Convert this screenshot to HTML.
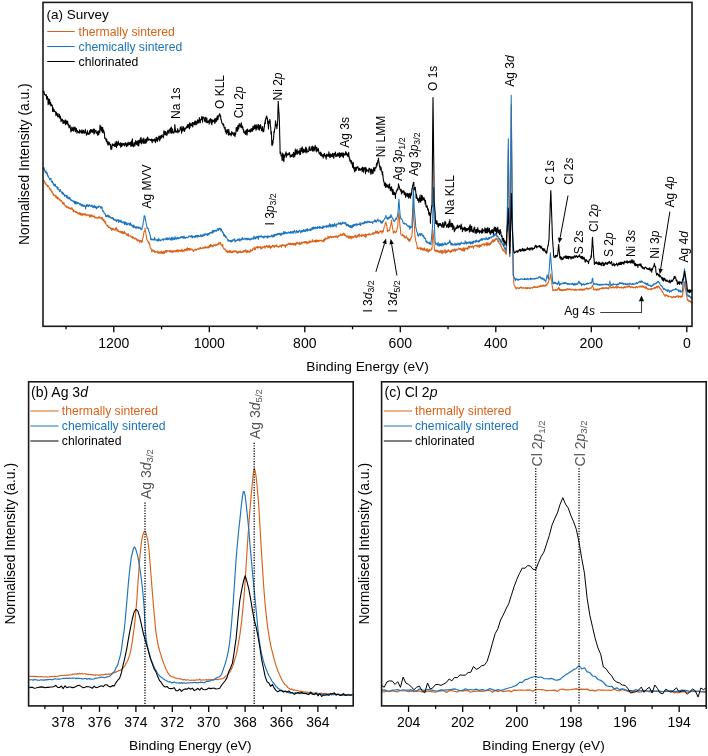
<!DOCTYPE html>
<html><head><meta charset="utf-8"><style>
html,body{margin:0;padding:0;background:#fff;}
svg{display:block;font-family:"Liberation Sans", sans-serif;will-change:transform;}
</style></head><body>
<svg width="708" height="756" viewBox="0 0 708 756">
<rect x="0" y="0" width="708" height="756" fill="#fff"/>
<polyline fill="none" stroke="#DA6218" stroke-width="1.05" stroke-linejoin="round"  points="43.00,179.72 43.30,180.36 43.60,180.36 43.90,180.33 44.20,181.10 44.50,181.14 44.80,182.38 45.10,183.78 45.40,182.85 45.70,183.19 46.00,184.45 46.30,184.77 46.60,184.99 46.90,184.61 47.20,185.69 47.50,186.63 47.80,185.49 48.10,186.56 48.40,185.89 48.70,186.77 49.00,186.78 49.30,188.42 49.60,188.08 49.90,189.67 50.20,190.03 50.50,190.21 50.80,188.90 51.10,190.82 51.40,191.62 51.70,192.17 52.00,191.36 52.30,192.58 52.60,192.63 52.90,193.20 53.20,195.04 53.20,193.65 53.50,194.52 53.80,195.49 54.10,194.67 54.40,195.31 54.70,195.75 55.00,195.98 55.30,195.26 55.60,196.48 55.90,197.67 56.20,195.70 56.50,197.71 56.80,197.35 57.10,196.96 57.40,199.13 57.70,198.40 58.00,197.13 58.30,198.29 58.60,198.89 58.90,198.56 59.20,199.47 59.50,199.19 59.80,200.03 60.10,200.92 60.40,199.65 60.70,200.64 61.00,200.48 61.30,201.26 61.60,200.62 61.90,201.42 62.20,202.05 62.50,203.21 62.80,203.73 63.10,202.21 63.40,202.94 63.70,204.35 64.00,202.69 64.30,204.16 64.60,204.75 64.90,206.09 65.20,205.98 65.50,205.53 65.80,205.80 66.10,206.19 66.40,207.81 66.50,206.45 66.70,206.66 67.00,207.32 67.30,207.11 67.60,207.17 67.90,206.60 68.20,207.52 68.50,207.28 68.80,208.57 69.10,208.28 69.40,207.87 69.70,208.50 70.00,207.87 70.30,209.06 70.60,208.43 70.90,209.05 71.20,207.84 71.50,209.26 71.80,207.94 72.10,207.89 72.40,209.39 72.70,209.15 73.00,210.15 73.30,211.92 73.60,209.82 73.90,210.18 74.20,211.02 74.50,211.46 74.80,211.18 75.10,211.38 75.40,212.28 75.70,212.36 76.00,211.40 76.30,212.32 76.60,212.60 76.90,211.97 77.20,213.13 77.50,212.46 77.80,214.01 78.10,213.59 78.40,213.67 78.70,213.33 79.00,213.85 79.30,212.60 79.60,213.40 79.70,214.56 79.90,212.69 80.20,214.94 80.50,213.01 80.80,214.89 81.10,213.69 81.40,214.91 81.70,214.42 82.00,213.16 82.30,215.25 82.60,215.38 82.90,214.25 83.20,214.09 83.50,214.19 83.80,213.60 84.10,215.19 84.40,214.00 84.70,214.42 85.00,213.93 85.30,214.13 85.60,213.72 85.90,215.71 86.20,214.75 86.50,215.68 86.80,215.06 87.10,214.63 87.40,214.99 87.70,214.91 88.00,215.42 88.30,215.22 88.60,215.36 88.90,214.63 89.20,215.13 89.50,217.04 89.80,215.36 90.10,215.12 90.40,216.21 90.70,217.05 91.00,214.94 91.30,215.90 91.60,215.61 91.90,214.79 92.20,216.71 92.50,216.19 92.80,216.33 93.10,215.79 93.40,216.80 93.70,216.17 94.00,216.60 94.30,216.02 94.60,216.09 94.90,218.16 95.20,216.93 95.50,217.66 95.80,217.53 96.10,217.31 96.40,217.32 96.70,218.20 97.00,217.50 97.30,217.58 97.60,217.65 97.90,218.44 98.20,217.98 98.50,217.68 98.80,216.91 99.10,216.25 99.40,217.98 99.70,218.00 100.00,217.22 100.30,217.81 100.60,218.09 100.90,218.24 101.20,218.44 101.50,217.54 101.80,219.13 102.10,217.16 102.40,218.82 102.50,218.57 102.70,219.20 103.00,220.47 103.30,220.67 103.60,219.17 103.90,219.23 104.20,221.58 104.50,220.67 104.80,221.90 105.10,223.04 105.40,221.68 105.70,221.86 106.00,224.19 106.30,224.61 106.60,224.98 106.90,225.81 107.00,225.39 107.20,225.05 107.50,226.27 107.80,225.89 108.10,225.60 108.40,227.44 108.70,227.24 109.00,227.81 109.30,226.98 109.60,227.43 109.90,227.37 110.20,227.64 110.50,228.62 110.80,228.04 111.10,229.03 111.40,229.13 111.70,230.50 112.00,228.02 112.30,229.80 112.60,229.13 112.90,229.24 113.20,228.21 113.50,229.00 113.80,229.95 114.10,229.38 114.40,229.56 114.70,229.34 115.00,230.49 115.30,229.67 115.60,228.10 115.90,229.30 116.20,228.42 116.50,227.54 116.80,229.67 117.10,231.17 117.40,230.31 117.70,229.53 118.00,229.85 118.30,231.56 118.60,231.01 118.90,231.11 119.20,231.23 119.40,231.45 119.50,232.14 119.80,232.13 120.10,232.04 120.40,231.24 120.70,232.53 121.00,231.74 121.30,233.16 121.60,231.45 121.90,232.35 122.20,232.50 122.50,231.56 122.80,233.90 123.10,233.75 123.40,232.38 123.70,233.38 124.00,233.19 124.30,231.05 124.60,233.32 124.90,233.23 125.20,233.48 125.50,232.76 125.80,233.52 126.10,233.74 126.40,234.92 126.70,234.42 127.00,234.31 127.30,235.60 127.60,234.16 127.90,234.42 128.20,233.49 128.50,236.16 128.80,235.84 129.10,235.95 129.40,235.90 129.70,235.63 130.00,235.86 130.30,235.66 130.60,235.86 130.90,236.21 131.20,237.47 131.50,236.92 131.80,236.64 132.10,236.42 132.40,236.57 132.60,238.39 132.70,237.69 133.00,237.59 133.30,237.51 133.60,237.15 133.90,238.14 134.20,239.03 134.50,238.25 134.80,238.53 135.10,238.68 135.40,239.06 135.70,237.91 136.00,239.05 136.30,238.72 136.60,240.16 136.90,239.06 137.20,240.23 137.50,241.09 137.80,239.88 138.10,239.82 138.40,240.57 138.70,240.57 139.00,239.96 139.30,241.18 139.60,242.46 139.90,240.86 140.20,240.99 140.50,240.45 140.80,241.57 141.10,240.49 141.40,240.70 141.70,242.61 141.90,241.04 142.00,242.08 142.30,241.11 142.60,238.88 142.90,237.82 143.20,237.60 143.50,234.73 143.80,233.18 144.10,231.37 144.40,231.17 144.70,231.00 145.00,229.36 145.00,227.96 145.30,229.75 145.60,231.73 145.90,234.03 146.20,235.36 146.50,237.36 146.80,239.10 147.00,239.76 147.10,240.06 147.40,240.61 147.70,240.76 148.00,241.57 148.30,242.97 148.50,242.25 148.60,242.14 148.90,241.74 149.20,244.21 149.50,243.39 149.80,244.72 150.10,247.37 150.40,248.21 150.70,248.53 151.00,248.32 151.10,249.69 151.30,249.57 151.60,250.69 151.90,252.05 152.20,250.66 152.50,250.05 152.80,249.89 153.10,250.86 153.40,250.90 153.70,250.30 154.00,251.37 154.30,250.53 154.60,252.33 154.90,252.39 155.20,252.50 155.50,251.41 155.80,252.23 156.10,251.82 156.40,251.69 156.70,251.80 157.00,251.16 157.30,251.12 157.60,252.87 157.90,252.20 158.20,252.58 158.50,253.24 158.80,251.26 159.10,252.04 159.40,252.81 159.70,253.03 160.00,252.50 160.00,253.53 160.30,252.86 160.60,251.74 160.90,251.89 161.20,253.14 161.50,252.82 161.80,250.99 162.10,253.37 162.40,252.75 162.70,253.27 163.00,251.93 163.30,251.95 163.60,251.29 163.90,253.99 164.20,251.91 164.50,253.17 164.80,251.42 165.10,251.94 165.40,250.46 165.70,251.33 166.00,252.25 166.30,250.47 166.60,252.13 166.90,251.51 167.20,250.43 167.50,250.82 167.80,250.86 168.10,251.20 168.40,250.89 168.70,250.73 169.00,251.20 169.30,250.72 169.60,250.58 169.90,251.55 170.20,252.28 170.50,250.48 170.80,251.62 171.10,251.10 171.40,250.82 171.70,252.15 172.00,251.08 172.30,252.54 172.60,250.79 172.90,251.64 173.20,251.15 173.50,250.74 173.80,251.74 174.10,251.18 174.40,251.75 174.70,251.27 175.00,250.49 175.30,251.24 175.60,251.35 175.90,252.03 176.20,250.62 176.50,251.26 176.80,249.97 177.10,251.73 177.40,250.41 177.70,249.84 178.00,251.13 178.30,251.98 178.60,249.98 178.90,250.28 179.20,250.52 179.50,250.19 179.80,251.29 180.10,250.36 180.40,250.38 180.70,251.31 181.00,250.25 181.30,251.10 181.50,250.02 181.60,249.81 181.90,249.30 182.20,252.04 182.50,250.37 182.80,250.77 183.10,250.55 183.40,250.67 183.70,250.56 184.00,251.93 184.30,249.67 184.60,249.23 184.90,249.58 185.20,249.27 185.50,250.76 185.80,250.73 186.10,249.31 186.40,248.90 186.70,249.58 187.00,250.81 187.30,247.56 187.60,249.98 187.90,248.71 188.20,250.23 188.50,248.59 188.80,249.15 189.10,248.21 189.40,248.62 189.70,250.42 190.00,250.04 190.30,249.19 190.60,248.92 190.90,248.25 191.20,249.48 191.50,249.85 191.80,249.92 192.10,250.00 192.40,249.31 192.70,250.16 193.00,250.23 193.30,251.25 193.60,251.69 193.90,250.16 194.20,249.65 194.50,250.13 194.80,249.65 195.10,249.48 195.40,249.92 195.70,249.11 196.00,250.27 196.30,249.67 196.60,249.87 196.90,249.48 197.20,249.01 197.50,248.78 197.80,249.25 198.10,248.95 198.40,249.46 198.70,249.21 199.00,248.12 199.30,249.12 199.60,247.99 199.90,248.46 200.20,248.65 200.50,247.26 200.80,248.83 201.10,248.83 201.40,248.56 201.70,248.31 202.00,248.29 202.30,247.78 202.60,248.23 202.90,247.93 203.20,248.32 203.50,247.24 203.80,248.21 204.10,248.03 204.40,247.71 204.70,247.39 205.00,248.05 205.30,246.32 205.60,247.86 205.90,247.66 206.20,247.67 206.50,247.72 206.80,246.94 207.10,247.22 207.40,247.88 207.70,247.69 207.90,247.50 208.00,246.17 208.30,247.57 208.60,247.90 208.90,247.63 209.20,246.89 209.50,245.40 209.80,247.13 210.10,246.18 210.40,244.28 210.70,246.36 211.00,244.86 211.30,244.93 211.60,245.36 211.90,246.73 212.20,245.44 212.50,245.87 212.80,246.92 213.10,246.75 213.40,245.42 213.70,245.26 214.00,244.43 214.30,244.79 214.60,245.57 214.90,245.47 215.20,245.19 215.50,245.77 215.80,244.37 216.10,244.83 216.40,245.34 216.70,245.15 217.00,245.44 217.30,244.85 217.60,244.23 217.90,244.64 218.20,243.51 218.50,242.92 218.80,244.45 219.10,243.83 219.40,243.94 219.70,242.27 219.80,243.16 220.00,243.12 220.30,243.17 220.60,242.39 220.90,244.09 221.20,245.30 221.50,245.22 221.80,244.81 222.10,245.59 222.40,246.54 222.70,244.28 223.00,246.64 223.30,247.54 223.60,248.02 223.90,249.16 224.20,249.10 224.50,248.82 224.80,249.14 225.10,249.80 225.40,249.10 225.70,249.75 226.00,250.73 226.30,251.78 226.60,250.45 226.90,250.79 227.20,251.24 227.50,252.38 227.80,251.64 227.80,252.75 228.10,250.91 228.40,251.49 228.70,251.50 229.00,252.27 229.30,252.50 229.60,250.63 229.90,251.12 230.20,252.10 230.50,251.38 230.80,250.75 231.10,252.67 231.40,252.25 231.70,252.22 232.00,251.45 232.30,252.53 232.60,251.52 232.90,252.46 233.20,250.90 233.50,250.88 233.80,251.62 234.10,250.89 234.40,251.89 234.70,251.55 235.00,250.65 235.30,251.40 235.60,251.08 235.90,252.05 236.20,250.92 236.50,251.10 236.80,252.39 237.10,253.21 237.40,253.09 237.70,251.71 238.00,251.90 238.30,252.96 238.60,251.78 238.90,251.21 239.20,252.10 239.50,252.41 239.80,251.49 240.10,250.91 240.40,251.09 240.70,252.67 241.00,251.59 241.30,252.02 241.60,252.24 241.90,252.48 242.20,251.69 242.50,252.23 242.80,251.09 243.10,251.38 243.40,250.77 243.70,252.28 244.00,251.29 244.30,250.65 244.60,250.84 244.90,250.84 245.20,251.45 245.50,249.67 245.80,250.04 246.10,250.50 246.40,252.68 246.70,251.51 247.00,250.74 247.30,251.41 247.60,252.48 247.60,250.85 247.90,250.78 248.20,251.99 248.50,251.47 248.80,251.63 249.10,250.76 249.40,252.58 249.70,252.40 250.00,251.50 250.30,251.53 250.60,249.42 250.90,251.31 251.20,250.56 251.50,250.89 251.80,250.92 252.10,249.98 252.40,248.78 252.70,250.12 253.00,249.09 253.30,249.20 253.60,248.79 253.90,248.80 254.20,247.14 254.50,249.61 254.80,248.74 255.10,249.24 255.40,249.77 255.70,248.20 256.00,246.74 256.30,247.34 256.60,247.03 256.90,247.50 257.20,247.88 257.50,246.26 257.80,247.97 258.10,246.54 258.40,247.86 258.70,247.53 259.00,247.35 259.30,247.50 259.60,247.14 259.90,247.06 260.20,246.23 260.50,247.45 260.80,248.84 261.10,248.91 261.40,248.38 261.70,247.89 262.00,246.81 262.30,248.36 262.60,247.19 262.90,247.13 263.20,246.91 263.50,247.13 263.80,246.66 264.10,246.84 264.40,246.00 264.70,246.44 265.00,248.34 265.30,246.49 265.60,246.27 265.90,246.78 266.20,246.85 266.50,245.43 266.80,246.08 267.10,246.90 267.40,246.40 267.70,246.29 268.00,247.36 268.30,245.68 268.60,246.23 268.80,245.78 268.90,247.43 269.20,245.19 269.50,246.47 269.80,246.88 270.00,247.96 270.10,247.86 270.40,248.36 270.70,246.03 271.00,247.67 271.30,246.80 271.60,246.42 271.90,247.24 272.20,246.07 272.50,245.14 272.80,246.36 273.10,245.47 273.40,246.07 273.70,246.80 274.00,246.73 274.30,247.66 274.60,246.30 274.90,245.27 275.20,245.83 275.50,245.69 275.80,245.44 276.10,246.66 276.40,245.83 276.70,244.83 277.00,246.83 277.30,246.23 277.60,246.60 277.90,246.44 278.20,246.86 278.50,246.44 278.80,247.36 279.10,246.77 279.40,246.75 279.70,246.75 280.00,245.32 280.30,246.25 280.60,246.12 280.90,246.39 281.20,245.12 281.50,247.27 281.80,246.02 282.10,244.93 282.40,244.47 282.70,245.46 283.00,245.54 283.30,245.03 283.60,245.62 283.90,245.06 284.20,245.95 284.50,245.00 284.80,245.51 285.10,246.27 285.40,247.45 285.70,244.72 286.00,245.08 286.30,244.72 286.60,245.86 286.90,244.31 287.20,244.70 287.50,244.94 287.80,244.12 288.10,244.03 288.40,244.30 288.70,243.00 289.00,243.42 289.30,244.14 289.60,244.52 289.90,244.23 290.20,243.01 290.50,243.97 290.80,244.90 291.10,244.70 291.40,244.21 291.70,243.58 292.00,244.68 292.30,243.74 292.60,243.25 292.90,243.47 293.20,245.10 293.50,244.11 293.80,244.75 294.10,243.45 294.40,244.44 294.70,243.22 295.00,243.49 295.30,245.41 295.60,244.07 295.90,243.06 296.20,243.32 296.50,243.58 296.50,244.25 296.80,242.93 297.10,241.96 297.40,243.03 297.70,243.23 298.00,243.28 298.30,244.16 298.60,243.39 298.90,243.74 299.20,242.27 299.50,243.71 299.80,244.59 300.10,243.55 300.40,243.11 300.70,242.98 301.00,244.16 301.30,242.08 301.60,242.65 301.90,243.05 302.20,243.23 302.50,242.32 302.80,242.85 303.10,242.39 303.40,242.65 303.70,242.43 304.00,241.64 304.30,242.44 304.60,243.07 304.90,241.65 305.20,242.16 305.50,242.81 305.80,241.48 306.10,242.40 306.40,241.44 306.70,243.07 307.00,243.93 307.30,243.69 307.60,241.98 307.90,242.66 308.20,242.14 308.50,242.07 308.80,243.09 309.10,240.88 309.40,242.59 309.70,241.70 310.00,242.72 310.30,241.74 310.60,241.04 310.90,241.69 311.20,241.98 311.50,241.40 311.80,241.69 312.10,240.88 312.40,239.63 312.70,241.86 313.00,241.67 313.30,241.23 313.60,241.14 313.90,241.85 314.20,240.72 314.50,240.53 314.80,240.92 315.10,241.95 315.40,240.02 315.70,241.95 316.00,240.56 316.30,240.19 316.60,241.94 316.90,240.88 317.20,239.93 317.50,240.59 317.80,241.51 318.10,241.66 318.40,240.40 318.70,240.99 319.00,241.19 319.30,240.16 319.60,240.90 319.90,240.61 320.20,240.23 320.50,240.26 320.80,240.69 321.10,240.65 321.40,240.20 321.70,240.29 322.00,241.41 322.30,240.70 322.60,241.15 322.90,241.32 322.90,240.83 323.20,241.97 323.50,239.51 323.80,240.59 324.10,239.58 324.40,241.03 324.70,240.73 325.00,237.80 325.30,238.34 325.60,239.38 325.90,239.29 326.20,239.08 326.50,238.32 326.80,238.57 327.10,238.60 327.40,237.94 327.70,238.67 328.00,236.12 328.30,238.21 328.60,236.89 328.90,238.31 329.20,237.35 329.50,236.78 329.80,237.65 330.10,236.61 330.40,236.52 330.70,235.96 331.00,237.03 331.30,237.35 331.60,237.68 331.90,236.75 332.20,237.59 332.50,236.78 332.80,236.67 333.10,237.15 333.40,237.51 333.70,236.46 334.00,236.53 334.30,236.59 334.60,236.77 334.90,236.01 335.20,237.43 335.50,236.32 335.80,236.90 336.10,235.86 336.40,236.67 336.70,236.60 337.00,235.90 337.30,237.64 337.60,236.31 337.90,237.29 338.20,236.60 338.50,235.33 338.80,235.48 339.10,236.05 339.40,235.73 339.70,235.68 340.00,235.39 340.30,234.20 340.60,235.33 340.90,233.78 341.20,235.66 341.50,234.77 341.80,234.70 342.10,234.99 342.40,235.27 342.70,233.90 343.00,233.57 343.30,233.98 343.60,233.15 343.90,233.85 344.10,235.69 344.20,233.74 344.50,235.20 344.80,233.85 345.10,235.29 345.40,235.02 345.70,235.40 346.00,236.06 346.30,237.14 346.60,236.15 346.90,236.27 347.20,235.61 347.50,236.94 347.80,236.47 348.10,237.44 348.40,236.94 348.70,238.43 349.00,235.80 349.30,237.24 349.40,238.17 349.60,237.20 349.90,236.82 350.20,237.17 350.50,236.29 350.80,237.38 351.10,239.09 351.40,238.09 351.70,236.38 352.00,236.53 352.30,236.85 352.60,237.88 352.90,236.48 353.20,236.55 353.50,237.70 353.80,237.65 354.10,236.68 354.40,236.07 354.70,235.70 355.00,236.27 355.30,235.06 355.60,237.22 355.90,236.10 356.20,236.84 356.50,237.78 356.80,237.16 357.10,235.31 357.40,236.73 357.70,236.86 358.00,235.35 358.30,235.13 358.60,235.72 358.90,234.57 359.20,236.85 359.50,233.94 359.80,234.92 360.10,235.56 360.40,235.60 360.70,235.90 361.00,235.98 361.30,235.61 361.60,236.61 361.90,234.14 362.20,235.71 362.50,235.14 362.80,235.73 363.10,235.74 363.40,234.84 363.70,234.99 364.00,236.01 364.30,235.62 364.60,234.79 364.90,236.78 365.20,236.93 365.50,234.04 365.80,235.31 366.10,236.91 366.40,235.56 366.70,235.08 367.00,234.70 367.30,234.39 367.60,234.57 367.90,234.26 368.20,235.18 368.50,234.27 368.80,234.19 369.10,233.57 369.40,234.39 369.70,233.71 370.00,234.20 370.30,235.07 370.60,234.50 370.90,234.54 371.20,234.36 371.50,234.06 371.80,233.83 372.10,233.61 372.40,234.32 372.70,232.85 373.00,234.59 373.30,233.52 373.60,232.85 373.90,232.96 374.20,232.74 374.50,233.27 374.80,232.51 375.10,233.80 375.40,232.24 375.70,230.99 375.80,232.05 376.00,231.01 376.30,232.39 376.60,233.13 376.90,232.73 377.20,231.16 377.50,231.53 377.80,233.38 378.00,232.25 378.10,231.96 378.40,232.66 378.70,233.63 379.00,232.71 379.30,231.80 379.60,231.94 379.90,232.12 380.20,231.20 380.50,230.86 380.80,231.69 381.10,230.93 381.40,231.57 381.70,231.65 382.00,233.29 382.30,230.83 382.60,231.30 382.90,231.17 383.20,231.51 383.30,231.91 383.50,230.03 383.80,228.71 384.10,227.02 384.40,226.48 384.70,226.51 385.00,225.09 385.30,223.24 385.60,222.68 385.90,221.95 385.90,222.32 386.20,223.20 386.50,225.16 386.80,225.70 387.10,227.92 387.40,231.71 387.50,229.45 387.70,230.82 388.00,231.19 388.30,230.69 388.60,230.31 388.90,230.81 389.20,230.79 389.50,230.66 389.60,229.28 389.80,229.49 390.10,227.34 390.40,225.94 390.70,224.89 391.00,223.56 391.30,222.12 391.50,219.97 391.60,221.68 391.90,223.87 392.20,225.87 392.50,228.09 392.80,228.98 393.10,231.02 393.30,233.17 393.40,231.54 393.70,232.65 394.00,232.02 394.30,232.09 394.60,231.01 394.90,231.59 395.20,232.19 395.50,232.80 395.80,232.79 396.10,231.88 396.40,231.68 396.50,231.15 396.70,231.03 397.00,228.98 397.30,228.03 397.60,227.29 397.90,224.34 397.90,223.15 398.20,220.12 398.50,216.16 398.80,212.84 398.90,213.50 399.10,215.05 399.40,217.32 399.70,222.54 400.00,226.59 400.00,225.32 400.30,228.15 400.60,231.47 400.80,233.98 400.90,234.30 401.20,234.91 401.50,235.14 401.80,235.35 402.10,235.72 402.40,235.44 402.70,234.05 403.00,235.35 403.30,235.94 403.60,235.67 403.90,236.88 404.20,236.15 404.50,235.93 404.80,237.91 405.10,237.51 405.40,237.34 405.50,237.90 405.70,238.13 406.00,237.79 406.30,235.90 406.60,237.44 406.90,237.82 407.20,237.65 407.50,238.77 407.80,239.76 408.10,238.77 408.40,238.56 408.70,241.23 409.00,239.67 409.30,239.40 409.60,240.82 409.70,241.10 409.90,239.87 410.20,240.40 410.50,238.84 410.80,237.90 411.10,238.10 411.40,237.92 411.70,236.23 411.90,236.52 412.00,234.37 412.30,231.07 412.60,222.94 412.80,220.84 412.90,216.91 413.20,208.33 413.40,203.27 413.50,206.09 413.80,214.49 414.10,221.90 414.10,221.18 414.40,226.00 414.70,231.56 415.00,236.39 415.00,236.97 415.30,237.79 415.60,239.83 415.90,241.74 416.20,242.29 416.50,242.63 416.80,244.43 417.10,245.82 417.20,248.62 417.40,246.84 417.70,248.48 418.00,248.08 418.30,249.02 418.60,248.57 418.90,247.84 419.20,247.87 419.50,248.20 419.80,248.38 420.10,247.97 420.40,248.47 420.70,249.82 421.00,247.46 421.30,249.06 421.60,248.31 421.90,249.25 422.20,249.85 422.40,249.27 422.50,249.94 422.80,248.24 423.10,250.33 423.40,249.10 423.70,250.06 424.00,249.76 424.30,247.71 424.60,249.09 424.90,249.84 425.20,250.85 425.50,249.91 425.80,249.90 426.10,248.67 426.40,250.84 426.70,251.17 427.00,249.90 427.30,249.79 427.60,248.83 427.90,250.80 428.20,252.26 428.50,250.87 428.80,251.37 428.80,250.87 429.10,249.66 429.40,251.32 429.70,249.30 430.00,249.96 430.30,250.20 430.60,250.50 430.90,249.99 431.20,249.79 431.50,248.74 431.80,248.14 432.00,248.98 432.10,246.59 432.40,240.94 432.70,235.76 433.00,231.14 433.00,230.03 433.30,233.91 433.60,237.21 433.90,242.10 434.20,245.81 434.50,250.56 434.60,249.12 434.80,249.76 435.10,251.01 435.40,250.24 435.70,250.25 436.00,251.88 436.30,250.46 436.60,249.98 436.90,249.99 437.20,251.37 437.50,251.49 437.80,250.37 438.10,250.78 438.40,252.04 438.70,252.18 439.00,251.35 439.30,252.38 439.60,252.41 439.90,250.71 440.00,251.84 440.20,252.37 440.50,251.60 440.80,250.40 441.10,251.77 441.40,252.53 441.70,253.12 442.00,250.27 442.30,253.84 442.60,251.00 442.90,252.51 443.20,252.66 443.50,252.41 443.80,251.71 444.10,250.66 444.40,251.92 444.70,250.85 445.00,249.43 445.30,253.40 445.60,251.77 445.90,252.58 446.20,250.52 446.50,252.30 446.80,252.40 447.10,252.40 447.40,251.23 447.70,250.37 448.00,251.16 448.30,249.65 448.60,250.04 448.90,251.38 449.20,250.56 449.50,251.17 449.80,251.20 450.10,252.71 450.40,252.20 450.70,251.15 451.00,252.04 451.00,250.54 451.30,250.79 451.60,251.64 451.90,249.93 452.20,250.54 452.50,249.64 452.80,250.60 453.10,251.62 453.40,249.71 453.70,250.34 454.00,249.39 454.30,249.11 454.60,248.97 454.90,250.92 455.20,251.53 455.50,250.07 455.80,249.11 456.10,250.13 456.40,249.30 456.70,250.11 457.00,249.69 457.30,249.64 457.60,249.84 457.90,248.92 458.20,249.02 458.50,248.00 458.80,248.93 459.10,248.18 459.40,249.12 459.70,248.50 460.00,249.30 460.30,249.57 460.60,248.18 460.90,248.65 461.20,248.59 461.50,249.89 461.80,250.65 462.10,250.04 462.40,249.18 462.70,250.56 463.00,248.35 463.30,250.61 463.60,248.99 463.90,247.38 464.20,251.41 464.50,250.55 464.80,248.51 465.10,249.31 465.40,248.91 465.70,249.01 466.00,247.67 466.30,248.12 466.60,248.81 466.90,248.47 467.20,249.04 467.50,248.04 467.80,249.59 468.10,247.15 468.40,247.75 468.70,246.00 469.00,246.39 469.30,248.23 469.60,246.44 469.70,247.49 469.90,246.98 470.20,246.16 470.50,246.61 470.80,246.43 471.10,246.39 471.40,247.27 471.70,247.15 472.00,246.19 472.30,245.91 472.60,246.76 472.90,246.43 473.20,247.23 473.50,248.40 473.80,246.99 474.10,246.27 474.40,246.09 474.70,245.51 475.00,245.39 475.30,245.24 475.60,245.62 475.90,245.53 476.20,246.34 476.50,245.43 476.80,245.53 477.10,244.73 477.40,246.85 477.70,245.97 478.00,246.91 478.30,246.15 478.60,246.65 478.90,245.32 479.20,246.00 479.50,247.45 479.80,244.46 480.10,246.20 480.40,246.53 480.70,245.51 481.00,245.69 481.30,246.00 481.60,244.46 481.90,245.20 482.20,244.15 482.50,244.22 482.80,244.19 483.10,244.48 483.40,244.64 483.70,244.80 484.00,243.30 484.30,245.84 484.60,245.15 484.90,244.76 485.20,243.88 485.50,244.04 485.80,244.49 486.10,244.36 486.40,242.74 486.70,244.59 487.00,246.26 487.30,242.60 487.60,244.79 487.90,244.31 488.20,243.94 488.50,245.08 488.80,243.11 489.10,244.13 489.40,245.11 489.50,243.83 489.70,243.53 490.00,243.73 490.30,243.08 490.60,244.40 490.90,242.28 491.20,243.42 491.50,241.54 491.80,242.79 492.10,241.95 492.40,239.80 492.70,241.54 493.00,240.48 493.30,240.70 493.60,241.98 493.90,239.67 494.20,239.45 494.50,241.12 494.80,239.84 495.10,240.69 495.40,239.50 495.70,238.34 496.00,238.74 496.30,239.53 496.60,239.12 496.80,238.29 496.90,238.55 497.20,239.01 497.50,239.23 497.80,241.76 498.10,240.87 498.40,240.58 498.70,241.66 499.00,243.17 499.30,243.67 499.60,243.63 499.90,243.77 500.20,244.85 500.50,244.08 500.80,244.89 501.10,247.02 501.40,246.53 501.70,247.67 502.00,248.78 502.30,248.79 502.60,248.74 502.90,250.79 503.20,250.09 503.50,249.73 503.80,251.00 504.10,251.20 504.40,250.70 504.70,251.91 505.00,252.25 505.30,251.41 505.60,253.36 505.90,253.86 506.20,254.34 506.30,253.66 506.50,249.17 506.80,241.14 507.10,232.97 507.20,229.29 507.40,216.14 507.70,192.92 508.00,171.89 508.30,151.27 508.30,149.76 508.60,171.00 508.90,193.33 509.20,213.32 509.50,234.49 509.80,256.00 509.80,256.66 510.10,234.72 510.40,216.33 510.50,209.71 510.70,179.65 511.00,134.83 511.20,104.83 511.30,116.16 511.60,146.59 511.90,178.72 512.20,210.29 512.30,219.86 512.50,228.94 512.80,242.72 513.10,254.23 513.40,266.41 513.70,279.29 513.80,283.09 514.00,284.21 514.30,285.36 514.60,285.47 514.90,286.62 515.20,288.11 515.40,287.94 515.50,288.23 515.80,287.65 516.10,287.72 516.40,287.84 516.70,289.02 517.00,287.83 517.30,287.74 517.60,287.69 517.90,287.84 518.20,288.17 518.50,287.94 518.80,288.75 519.10,287.89 519.40,288.43 519.70,287.88 520.00,288.03 520.30,287.10 520.60,287.71 520.90,287.75 521.20,287.70 521.50,286.87 521.80,288.29 522.10,287.77 522.40,287.79 522.70,287.92 523.00,287.98 523.30,288.30 523.60,287.56 523.90,287.73 524.20,288.28 524.50,288.21 524.80,287.96 525.10,287.85 525.40,287.71 525.70,288.05 526.00,288.59 526.30,287.58 526.60,288.75 526.90,288.47 527.20,287.91 527.50,288.50 527.80,287.53 528.10,287.46 528.40,287.71 528.70,288.15 529.00,288.24 529.30,288.20 529.60,288.52 529.90,287.55 530.00,288.76 530.20,287.88 530.50,288.16 530.80,288.21 531.10,287.80 531.40,287.62 531.70,287.68 532.00,288.02 532.30,288.17 532.60,288.03 532.90,287.20 533.20,287.16 533.50,286.98 533.80,287.48 534.10,286.25 534.40,287.64 534.70,286.79 535.00,286.61 535.30,287.08 535.60,287.37 535.90,287.04 536.20,287.36 536.50,286.94 536.80,287.43 537.10,287.42 537.40,286.80 537.70,287.47 538.00,286.86 538.30,286.79 538.60,286.29 538.90,286.53 539.20,286.97 539.50,285.98 539.80,286.81 540.10,286.62 540.40,286.54 540.70,285.36 541.00,286.24 541.30,286.52 541.60,285.82 541.90,286.14 542.20,284.96 542.50,286.27 542.80,285.61 543.10,286.25 543.40,284.97 543.70,286.06 544.00,285.59 544.30,286.01 544.60,285.17 544.90,285.25 545.20,286.46 545.50,285.00 545.80,284.97 546.10,285.07 546.40,284.63 546.70,285.52 546.80,285.69 547.00,284.17 547.30,283.11 547.60,283.81 547.90,283.18 548.20,282.45 548.50,282.00 548.80,280.50 549.10,280.22 549.40,279.09 549.50,278.86 549.70,279.14 550.00,277.21 550.30,277.37 550.60,275.22 550.80,274.13 550.90,275.60 551.20,278.48 551.50,280.32 551.80,282.00 551.80,282.78 552.10,285.54 552.40,287.00 552.70,289.19 552.80,290.79 553.00,290.40 553.30,289.82 553.60,290.11 553.90,289.90 554.20,290.33 554.50,290.20 554.80,290.62 555.10,290.37 555.40,289.30 555.70,290.14 556.00,290.31 556.30,290.07 556.60,290.28 556.90,289.53 557.20,289.31 557.50,290.12 557.80,289.18 557.80,288.72 558.10,289.52 558.40,288.10 558.70,287.66 558.70,287.22 559.00,287.96 559.30,288.75 559.60,289.82 559.60,290.19 559.90,289.02 560.20,290.41 560.50,289.55 560.80,289.61 561.10,290.39 561.40,290.05 561.70,289.38 562.00,290.88 562.30,289.65 562.60,290.12 562.90,290.07 563.20,290.58 563.50,289.70 563.80,290.31 564.10,289.48 564.40,290.26 564.70,289.35 565.00,289.46 565.30,290.40 565.60,289.61 565.90,289.44 566.20,290.33 566.50,289.42 566.80,288.84 567.10,289.51 567.40,288.63 567.70,289.67 568.00,289.73 568.30,288.96 568.60,288.99 568.90,289.42 569.20,289.42 569.50,289.05 569.80,289.82 570.10,288.72 570.40,289.51 570.70,289.57 571.00,289.67 571.30,289.95 571.60,289.27 571.90,290.08 572.20,289.72 572.50,289.48 572.80,289.13 573.10,289.18 573.40,289.84 573.70,289.22 574.00,289.66 574.30,290.10 574.60,290.08 574.90,290.32 575.20,289.49 575.50,289.14 575.80,290.09 576.10,289.77 576.40,290.13 576.70,289.62 577.00,290.14 577.30,289.96 577.60,289.87 577.90,289.74 578.20,289.65 578.50,289.55 578.80,289.51 579.10,289.83 579.40,289.14 579.70,290.14 580.00,289.31 580.30,289.81 580.60,289.35 580.90,289.30 581.20,290.36 581.50,289.33 581.80,288.93 582.10,289.20 582.40,289.39 582.70,290.50 583.00,289.61 583.30,289.91 583.60,288.99 583.90,289.54 584.20,289.62 584.50,290.06 584.80,288.87 585.10,289.38 585.40,289.18 585.70,288.52 586.00,288.91 586.30,288.75 586.60,287.77 586.90,289.05 587.20,288.98 587.50,288.50 587.80,288.06 588.10,289.28 588.40,288.68 588.70,288.95 589.00,289.06 589.30,288.11 589.60,288.63 589.90,288.07 590.20,288.07 590.50,287.98 590.80,287.94 591.10,288.39 591.40,287.90 591.50,287.75 591.70,287.20 592.00,286.74 592.30,285.46 592.50,285.18 592.60,285.74 592.90,286.47 593.20,287.65 593.50,288.41 593.50,289.67 593.80,289.43 594.10,289.11 594.40,288.95 594.70,290.03 595.00,289.25 595.30,289.13 595.60,289.36 595.90,289.41 596.20,289.95 596.50,289.34 596.80,290.31 597.10,288.99 597.40,289.70 597.70,288.93 598.00,290.18 598.30,289.19 598.60,289.27 598.90,289.66 599.20,289.74 599.50,288.60 599.80,288.86 600.00,288.29 600.10,288.90 600.40,288.71 600.70,288.52 601.00,288.29 601.30,288.35 601.60,288.12 601.90,288.65 602.20,289.05 602.50,287.47 602.80,288.27 603.10,288.11 603.40,288.51 603.70,287.85 604.00,288.19 604.30,287.76 604.60,288.51 604.90,288.20 605.20,288.05 605.50,288.25 605.80,287.94 606.10,287.32 606.40,288.27 606.70,288.13 607.00,287.94 607.30,288.47 607.60,288.60 607.90,287.59 608.20,287.76 608.50,288.83 608.80,288.79 609.00,287.83 609.10,287.40 609.40,286.96 609.70,286.32 609.90,285.34 610.00,286.23 610.30,286.24 610.60,286.85 610.80,288.17 610.90,287.36 611.20,287.55 611.50,287.77 611.80,287.78 612.10,287.20 612.40,287.32 612.70,286.89 613.00,288.03 613.30,287.52 613.60,286.72 613.90,287.22 614.20,287.53 614.50,287.42 614.80,288.01 615.10,287.79 615.40,286.91 615.70,287.10 616.00,286.55 616.30,287.23 616.60,287.19 616.90,288.35 617.20,287.20 617.50,286.24 617.80,286.92 618.10,287.32 618.40,286.76 618.70,286.99 619.00,287.27 619.30,287.65 619.60,287.47 619.80,287.20 619.90,288.01 620.20,287.45 620.50,287.50 620.80,287.12 621.10,287.40 621.40,288.06 621.70,287.04 622.00,287.72 622.30,288.06 622.60,287.55 622.90,287.79 623.20,287.14 623.50,288.19 623.80,288.03 624.10,287.57 624.40,286.60 624.70,286.83 625.00,287.65 625.30,287.89 625.60,287.16 625.90,287.50 626.20,286.58 626.50,286.70 626.80,286.72 627.10,286.87 627.40,285.95 627.70,287.04 628.00,287.20 628.30,286.08 628.60,285.99 628.90,286.78 629.20,286.36 629.50,285.62 629.80,287.10 630.10,286.86 630.40,286.64 630.70,287.87 631.00,287.05 631.30,286.71 631.60,287.15 631.90,286.69 632.20,286.86 632.50,287.41 632.80,287.00 633.10,287.06 633.40,288.01 633.70,287.64 634.00,287.59 634.30,287.44 634.60,287.40 634.90,287.81 635.20,287.13 635.50,287.96 635.80,286.69 636.10,287.00 636.40,286.50 636.70,286.97 637.00,287.37 637.30,287.80 637.60,286.85 637.90,287.14 638.20,286.97 638.50,286.77 638.80,286.53 639.10,287.04 639.40,286.17 639.70,286.93 640.00,286.80 640.30,286.40 640.60,286.15 640.90,285.88 641.00,287.25 641.20,285.78 641.50,287.08 641.80,286.65 642.10,286.23 642.40,285.89 642.70,286.91 643.00,287.26 643.30,286.12 643.60,286.48 643.90,287.18 644.20,286.96 644.50,287.83 644.80,286.82 645.10,287.47 645.40,286.82 645.70,288.49 646.00,287.39 646.30,286.90 646.60,288.01 646.90,288.17 647.20,289.25 647.50,288.38 647.80,288.66 648.10,289.05 648.40,289.60 648.70,288.94 649.00,289.50 649.30,289.32 649.60,288.99 649.90,289.18 650.20,289.17 650.50,288.75 650.80,289.71 651.10,288.53 651.40,289.68 651.60,289.57 651.70,288.99 652.00,288.49 652.30,288.56 652.60,288.73 652.90,288.73 653.20,288.42 653.50,288.66 653.80,287.90 654.10,288.19 654.40,287.33 654.70,288.32 655.00,287.98 655.30,287.64 655.60,288.25 655.90,287.92 656.20,286.20 656.50,287.33 656.80,286.48 657.10,287.42 657.40,287.86 657.70,286.29 658.00,286.34 658.30,285.98 658.40,286.13 658.60,286.51 658.90,287.19 659.20,286.57 659.50,288.13 659.80,287.42 660.10,288.38 660.40,289.21 660.70,289.45 661.00,289.15 661.30,289.71 661.60,290.27 661.90,290.92 662.20,291.92 662.50,291.28 662.80,292.53 663.10,293.05 663.40,293.47 663.70,293.88 664.00,294.79 664.30,294.76 664.60,295.35 664.90,295.64 665.00,296.33 665.20,294.67 665.50,296.12 665.80,295.45 666.10,295.49 666.40,295.23 666.70,294.90 667.00,295.65 667.30,295.61 667.60,296.24 667.90,295.46 668.20,296.88 668.50,296.46 668.80,296.34 669.10,296.24 669.40,296.30 669.70,296.24 670.00,296.59 670.30,296.91 670.60,296.90 670.90,296.40 671.20,296.97 671.50,296.73 671.80,297.24 672.10,298.03 672.40,297.49 672.70,297.08 673.00,296.50 673.30,296.59 673.60,296.46 673.90,297.52 674.20,296.82 674.50,297.15 674.80,296.78 675.10,297.04 675.40,297.55 675.70,296.52 676.00,296.58 676.30,296.29 676.60,296.97 676.90,296.04 677.20,295.94 677.50,295.79 677.80,295.77 678.10,296.62 678.40,297.59 678.70,296.02 679.00,296.94 679.30,296.68 679.60,296.12 679.90,296.53 680.20,296.59 680.50,296.40 680.80,297.59 681.10,295.87 681.40,296.88 681.70,296.84 682.00,296.41 682.20,296.71 682.30,296.45 682.60,294.43 682.90,292.88 683.20,291.33 683.50,288.45 683.50,290.05 683.80,288.52 684.10,286.06 684.40,284.20 684.60,281.87 684.70,283.19 685.00,285.04 685.30,287.31 685.60,290.17 685.90,291.53 686.00,292.57 686.20,292.84 686.50,295.23 686.80,296.94 687.10,298.20 687.30,299.28 687.40,300.56 687.70,299.37 688.00,299.64 688.30,299.95 688.60,301.03 688.90,301.62 689.20,300.99 689.50,300.69 689.80,300.98 690.10,301.82 690.40,301.10 690.70,302.33 691.00,302.50 691.30,302.07 691.60,302.52 691.90,302.76 692.20,303.30 692.30,302.20"/>
<polyline fill="none" stroke="#1C74BC" stroke-width="1.05" stroke-linejoin="round"  points="43.00,167.66 43.30,169.53 43.60,168.18 43.90,168.38 44.20,167.72 44.50,170.54 44.80,169.98 45.10,172.46 45.40,171.42 45.70,171.80 46.00,170.81 46.30,173.81 46.60,172.95 46.90,173.64 47.20,172.66 47.50,175.56 47.80,176.14 48.10,175.48 48.40,176.53 48.70,177.25 49.00,178.17 49.30,178.00 49.60,179.68 49.90,178.66 50.20,178.83 50.50,179.37 50.80,178.26 51.10,179.98 51.40,181.77 51.70,181.64 52.00,181.26 52.30,182.56 52.60,181.22 52.90,182.96 53.20,184.01 53.20,184.11 53.50,183.29 53.80,184.85 54.10,185.85 54.40,184.43 54.70,185.60 55.00,184.18 55.30,184.18 55.60,186.42 55.90,186.30 56.20,186.73 56.50,186.45 56.80,186.98 57.10,188.12 57.40,189.12 57.70,187.98 58.00,187.22 58.30,189.73 58.60,189.54 58.90,189.92 59.20,189.86 59.50,191.79 59.80,190.42 60.10,191.07 60.40,189.61 60.70,190.88 61.00,191.11 61.30,191.91 61.60,192.49 61.90,191.96 62.20,194.10 62.50,192.28 62.80,193.00 63.10,193.79 63.40,192.93 63.70,194.57 64.00,194.89 64.30,194.47 64.60,196.41 64.90,195.33 65.20,195.79 65.50,195.17 65.80,194.95 66.10,196.04 66.40,196.59 66.50,196.60 66.70,197.64 67.00,195.45 67.30,196.56 67.60,196.21 67.90,198.75 68.20,197.47 68.50,197.67 68.80,197.39 69.10,199.06 69.40,198.24 69.70,198.90 70.00,197.39 70.30,200.00 70.60,199.62 70.90,199.94 71.20,200.67 71.50,199.81 71.80,200.05 72.10,200.92 72.40,200.91 72.70,200.62 73.00,201.04 73.30,200.83 73.60,201.95 73.90,202.31 74.20,201.81 74.50,203.40 74.80,201.01 75.10,202.16 75.40,203.78 75.70,202.32 76.00,201.56 76.30,203.93 76.60,203.39 76.90,202.18 77.20,203.75 77.50,202.49 77.80,202.35 78.10,203.36 78.40,203.24 78.70,202.91 79.00,203.62 79.30,203.31 79.60,204.30 79.70,204.32 79.90,204.95 80.20,204.13 80.50,203.55 80.80,203.65 81.10,204.56 81.40,206.00 81.70,205.60 82.00,204.60 82.30,205.92 82.60,204.46 82.90,206.22 83.20,205.29 83.50,206.26 83.80,206.24 84.10,205.64 84.40,206.14 84.70,205.12 85.00,205.87 85.30,206.73 85.60,208.96 85.90,206.37 86.20,205.86 86.50,204.98 86.80,206.49 87.10,204.41 87.40,205.02 87.70,205.87 88.00,204.68 88.30,206.75 88.60,206.42 88.90,205.20 89.20,205.24 89.50,204.70 89.80,204.68 90.10,206.12 90.40,206.30 90.70,206.15 91.00,206.14 91.30,205.57 91.60,206.31 91.90,204.98 92.20,206.14 92.50,207.29 92.80,207.22 93.10,205.93 93.40,206.08 93.70,207.42 94.00,207.80 94.30,205.39 94.60,206.28 94.90,206.86 95.20,207.69 95.50,206.22 95.80,207.42 96.10,206.78 96.40,208.86 96.70,207.44 97.00,207.05 97.30,206.92 97.60,207.97 97.90,207.68 98.20,206.34 98.50,207.31 98.80,206.14 99.10,206.58 99.40,206.19 99.70,206.21 100.00,206.74 100.30,206.59 100.60,207.80 100.90,208.08 101.20,207.39 101.50,206.82 101.50,208.31 101.80,206.83 102.10,207.53 102.40,210.15 102.70,210.70 103.00,211.54 103.30,211.23 103.60,211.03 103.90,212.17 104.20,213.55 104.50,213.11 104.80,213.72 105.10,213.76 105.40,214.48 105.70,216.54 106.00,216.79 106.00,215.50 106.30,215.58 106.60,215.98 106.90,216.82 107.20,215.53 107.50,216.28 107.80,214.80 108.10,215.48 108.40,216.78 108.70,217.18 109.00,215.69 109.30,216.06 109.60,217.34 109.90,216.57 110.20,216.60 110.50,217.56 110.80,217.50 111.10,218.38 111.40,218.35 111.70,217.53 112.00,218.09 112.30,218.35 112.60,217.58 112.90,218.06 113.20,219.70 113.50,217.94 113.80,220.03 114.10,219.63 114.40,219.43 114.70,220.05 115.00,220.10 115.30,220.75 115.60,219.63 115.90,219.85 116.20,219.92 116.50,221.61 116.80,221.00 117.10,219.68 117.40,220.22 117.70,220.03 118.00,220.66 118.30,220.90 118.60,222.54 118.90,219.52 119.20,221.73 119.40,221.30 119.50,220.43 119.80,220.90 120.10,220.70 120.40,221.16 120.70,221.94 121.00,220.12 121.30,222.33 121.60,221.17 121.90,222.70 122.20,222.01 122.50,222.78 122.80,222.44 123.10,222.99 123.40,222.38 123.70,221.87 124.00,223.15 124.30,223.32 124.60,224.50 124.90,221.53 125.20,222.99 125.50,224.03 125.80,222.36 126.10,223.20 126.40,225.02 126.70,224.55 127.00,222.86 127.30,224.64 127.60,224.49 127.90,224.22 128.20,223.97 128.50,223.91 128.80,223.13 129.10,223.47 129.40,224.49 129.70,224.16 130.00,225.57 130.30,224.09 130.60,222.71 130.90,224.47 131.20,225.16 131.50,225.48 131.80,225.49 132.10,225.08 132.40,227.07 132.60,225.65 132.70,226.81 133.00,226.22 133.30,225.67 133.60,227.74 133.90,224.88 134.20,226.19 134.50,227.21 134.80,226.65 135.10,227.52 135.40,226.93 135.70,226.71 136.00,228.72 136.30,227.00 136.60,227.12 136.90,226.51 137.20,226.86 137.50,228.01 137.80,228.05 138.10,227.73 138.40,227.31 138.70,228.45 139.00,226.76 139.30,227.88 139.60,228.03 139.90,227.67 140.20,228.49 140.50,227.94 140.80,227.89 141.10,229.90 141.40,229.15 141.70,229.53 141.90,228.68 142.00,228.87 142.30,227.32 142.60,226.25 142.90,225.72 143.20,222.39 143.50,221.39 143.80,219.79 144.10,215.85 144.40,216.09 144.70,215.82 144.80,215.87 145.00,216.05 145.30,218.95 145.60,220.68 145.90,221.02 146.20,224.01 146.50,225.87 146.80,226.51 147.00,226.50 147.10,228.49 147.40,227.68 147.70,227.91 148.00,228.67 148.30,228.55 148.50,229.98 148.60,230.10 148.90,231.56 149.20,232.21 149.50,232.30 149.80,233.90 150.10,235.81 150.40,235.99 150.70,239.64 151.00,238.43 151.10,238.55 151.30,239.87 151.60,239.61 151.90,239.07 152.20,238.97 152.50,239.52 152.80,239.88 153.10,239.87 153.40,239.13 153.70,239.74 154.00,240.10 154.30,240.10 154.60,237.26 154.90,238.95 155.20,239.07 155.50,239.51 155.80,239.84 156.10,240.41 156.40,240.20 156.70,239.65 157.00,239.77 157.30,241.08 157.60,239.31 157.90,240.02 158.20,240.99 158.50,240.10 158.80,238.34 159.10,240.19 159.40,239.66 159.70,239.91 160.00,240.84 160.00,240.41 160.30,239.84 160.60,240.68 160.90,240.31 161.20,240.04 161.50,240.16 161.80,240.09 162.10,239.60 162.40,239.46 162.70,239.76 163.00,238.95 163.30,238.64 163.60,240.47 163.90,239.22 164.20,239.28 164.50,239.11 164.80,239.14 165.10,239.07 165.40,239.04 165.70,238.35 166.00,239.62 166.30,238.39 166.60,239.69 166.90,237.49 167.20,238.15 167.50,239.72 167.80,238.91 168.10,238.55 168.40,239.37 168.70,238.33 169.00,239.20 169.30,237.50 169.60,238.83 169.90,238.69 170.20,239.57 170.50,239.80 170.80,238.48 171.10,240.30 171.40,238.61 171.70,237.46 172.00,237.17 172.30,240.05 172.60,238.77 172.90,238.28 173.20,238.14 173.50,237.80 173.80,239.56 174.10,238.41 174.40,239.75 174.70,238.19 175.00,236.52 175.30,238.87 175.60,237.92 175.90,237.99 176.20,239.32 176.50,237.92 176.80,238.98 177.10,238.08 177.40,237.50 177.70,238.42 178.00,237.55 178.30,238.87 178.60,238.62 178.90,237.89 179.20,238.23 179.50,238.13 179.80,237.43 180.10,238.23 180.40,237.32 180.70,237.88 181.00,236.64 181.30,237.37 181.50,237.57 181.60,236.65 181.90,236.89 182.20,236.78 182.50,237.72 182.80,236.63 183.10,237.52 183.40,238.36 183.70,237.53 184.00,236.10 184.30,237.46 184.60,238.21 184.90,237.28 185.20,238.38 185.50,238.04 185.80,237.92 186.10,237.41 186.40,237.21 186.70,237.36 187.00,237.54 187.30,237.81 187.60,237.64 187.90,236.99 188.20,237.15 188.50,237.29 188.80,235.68 189.10,236.23 189.40,236.13 189.70,236.52 190.00,236.43 190.30,236.43 190.60,235.96 190.90,237.12 191.20,236.84 191.50,235.41 191.80,236.66 192.10,235.81 192.40,237.93 192.70,236.29 193.00,236.31 193.30,236.63 193.60,236.37 193.90,236.42 194.20,237.57 194.50,236.52 194.80,236.91 195.10,237.06 195.40,235.42 195.70,237.35 196.00,236.54 196.30,236.67 196.60,235.24 196.90,236.43 197.20,236.06 197.50,235.29 197.80,237.35 198.10,236.01 198.40,235.37 198.70,235.66 199.00,236.19 199.30,236.35 199.60,235.95 199.90,236.44 200.20,236.66 200.50,234.66 200.80,235.25 201.10,234.94 201.40,235.74 201.70,236.76 202.00,236.16 202.30,234.86 202.60,235.39 202.90,236.32 203.20,235.07 203.50,235.29 203.80,235.48 204.10,233.75 204.40,235.56 204.70,235.09 205.00,235.11 205.30,233.81 205.60,233.85 205.90,233.86 206.20,234.40 206.50,234.19 206.80,234.17 207.10,235.37 207.40,234.98 207.70,233.43 207.90,233.48 208.00,235.24 208.30,233.61 208.60,234.78 208.90,234.83 209.20,233.12 209.50,233.21 209.80,233.35 210.10,232.52 210.40,232.31 210.70,232.62 211.00,233.43 211.30,232.33 211.60,232.37 211.90,232.04 212.20,231.22 212.50,233.21 212.80,230.19 213.10,231.31 213.40,232.06 213.70,230.44 214.00,231.79 214.00,232.26 214.30,230.49 214.60,231.12 214.90,229.96 215.20,231.01 215.50,230.55 215.80,230.51 216.10,231.24 216.40,230.45 216.70,231.00 217.00,230.36 217.30,228.89 217.60,229.88 217.90,229.95 218.20,228.40 218.50,230.37 218.80,229.29 219.10,229.38 219.40,228.28 219.70,228.85 219.80,228.95 220.00,228.75 220.30,229.46 220.60,228.20 220.90,231.19 221.20,229.71 221.50,229.29 221.80,230.59 222.10,231.07 222.40,232.50 222.70,231.81 223.00,233.13 223.30,232.62 223.60,235.44 223.90,234.64 224.20,236.16 224.50,234.39 224.80,236.12 225.10,235.37 225.40,236.99 225.70,237.54 226.00,236.32 226.30,237.16 226.60,237.64 226.90,237.90 227.20,239.01 227.50,239.37 227.80,239.55 227.80,240.80 228.10,241.20 228.40,239.86 228.70,240.46 229.00,240.91 229.30,240.73 229.60,240.37 229.90,241.47 230.20,241.45 230.50,241.27 230.80,240.55 231.10,242.13 231.40,241.89 231.70,240.24 232.00,240.41 232.30,241.36 232.60,239.85 232.90,240.73 233.20,240.44 233.50,239.86 233.80,240.19 234.10,239.15 234.40,239.89 234.70,238.76 235.00,241.92 235.30,241.29 235.60,241.03 235.90,240.29 236.20,240.77 236.50,240.94 236.80,240.72 237.10,240.62 237.40,239.24 237.70,240.24 238.00,239.51 238.30,239.02 238.60,239.04 238.90,240.20 239.20,240.64 239.50,238.79 239.80,241.08 240.10,240.81 240.40,239.35 240.70,239.20 241.00,239.40 241.30,240.09 241.60,238.97 241.90,238.33 242.20,239.32 242.50,237.42 242.80,238.99 243.10,239.69 243.40,238.99 243.70,239.29 244.00,239.05 244.30,239.20 244.60,238.75 244.90,238.02 245.20,238.48 245.50,238.60 245.80,239.62 246.10,239.91 246.40,239.02 246.70,238.15 247.00,238.18 247.30,238.60 247.60,239.79 247.60,239.04 247.90,238.75 248.20,238.22 248.50,239.46 248.80,239.02 249.10,238.77 249.40,238.89 249.70,240.08 250.00,238.70 250.30,240.09 250.60,239.75 250.90,238.86 251.20,239.47 251.50,238.71 251.80,238.16 252.10,238.55 252.40,238.04 252.70,239.07 253.00,238.65 253.30,239.02 253.60,239.16 253.90,236.14 254.20,238.66 254.50,237.01 254.80,238.41 255.10,237.55 255.40,238.21 255.70,239.06 256.00,236.66 256.30,237.98 256.60,237.68 256.90,236.21 257.20,238.00 257.50,237.44 257.80,236.94 258.10,236.68 258.40,239.56 258.70,236.78 259.00,235.67 259.30,236.27 259.60,236.65 259.90,236.60 260.20,236.79 260.50,236.04 260.80,237.21 261.10,236.43 261.40,235.76 261.70,236.16 262.00,236.48 262.30,237.40 262.60,237.13 262.90,236.51 263.20,236.78 263.50,236.92 263.80,238.27 264.10,236.26 264.40,237.05 264.70,237.21 265.00,235.91 265.30,236.72 265.60,236.66 265.90,236.14 266.20,236.88 266.50,237.20 266.80,237.25 267.10,236.24 267.40,236.51 267.70,238.13 268.00,235.53 268.30,236.52 268.60,237.01 268.90,236.44 269.20,236.80 269.50,236.42 269.80,236.83 270.00,237.21 270.10,236.06 270.40,236.32 270.70,236.07 271.00,235.76 271.30,235.98 271.60,235.09 271.90,236.43 272.20,237.09 272.50,237.02 272.80,236.63 273.10,234.87 273.40,236.65 273.70,234.88 274.00,235.29 274.30,236.62 274.60,234.34 274.90,235.67 275.20,235.16 275.50,234.75 275.80,234.12 276.10,235.01 276.40,234.27 276.70,235.34 277.00,235.42 277.30,233.43 277.60,234.05 277.90,234.17 278.20,233.51 278.50,233.56 278.80,234.47 279.10,234.26 279.40,233.19 279.70,234.05 280.00,234.85 280.30,233.56 280.60,233.76 280.90,235.63 281.20,235.39 281.50,233.13 281.80,233.25 282.10,234.45 282.40,233.17 282.70,233.75 283.00,233.46 283.30,234.08 283.60,231.63 283.90,231.74 284.20,232.34 284.50,233.91 284.80,232.93 285.10,231.68 285.40,233.27 285.70,233.37 286.00,232.62 286.30,232.52 286.60,233.07 286.90,233.63 287.20,232.82 287.50,233.09 287.80,232.63 288.10,232.36 288.40,231.94 288.70,232.80 289.00,232.37 289.30,232.39 289.60,233.26 289.90,232.91 290.20,233.19 290.50,231.34 290.80,232.93 291.10,232.05 291.40,231.87 291.70,231.80 292.00,233.32 292.30,232.98 292.60,231.77 292.90,231.40 293.20,232.19 293.50,231.76 293.80,233.28 294.10,230.86 294.40,230.51 294.70,231.62 295.00,231.75 295.30,231.78 295.60,232.20 295.90,233.15 296.20,231.30 296.50,231.12 296.50,230.24 296.80,231.73 297.10,232.17 297.40,231.32 297.70,232.38 298.00,231.50 298.30,232.60 298.60,231.69 298.90,230.63 299.20,230.94 299.50,230.26 299.80,230.11 300.10,231.61 300.40,232.07 300.70,232.89 301.00,231.37 301.30,231.22 301.60,230.54 301.90,232.07 302.20,231.56 302.50,230.74 302.80,231.61 303.10,231.41 303.40,229.48 303.70,231.32 304.00,230.76 304.30,230.25 304.60,230.14 304.90,231.67 305.20,231.44 305.50,231.59 305.80,229.30 306.10,229.62 306.40,230.74 306.70,229.11 307.00,229.43 307.30,228.58 307.60,231.29 307.90,230.67 308.20,230.18 308.50,229.98 308.80,229.48 309.10,229.47 309.40,230.21 309.70,229.18 310.00,230.60 310.30,229.26 310.60,228.91 310.90,230.45 311.20,229.27 311.50,229.68 311.80,228.83 312.10,227.33 312.40,229.30 312.70,227.75 313.00,229.46 313.30,227.38 313.60,227.05 313.90,228.60 314.20,228.61 314.50,228.31 314.80,227.27 315.10,228.81 315.40,227.00 315.70,227.71 316.00,227.43 316.30,227.71 316.60,228.59 316.90,227.45 317.20,228.32 317.50,228.40 317.80,226.57 318.10,226.96 318.40,227.54 318.70,227.37 319.00,228.03 319.30,226.34 319.60,228.32 319.90,228.32 320.20,227.63 320.50,226.70 320.80,227.72 321.10,227.30 321.40,228.11 321.70,227.59 322.00,228.18 322.30,227.28 322.60,228.66 322.90,225.81 322.90,226.78 323.20,227.83 323.50,226.24 323.80,227.82 324.10,226.23 324.40,227.08 324.70,226.18 325.00,226.38 325.30,226.69 325.60,226.33 325.90,225.98 326.20,227.75 326.50,226.04 326.80,225.22 327.10,226.57 327.40,226.44 327.70,226.71 328.00,227.12 328.30,225.07 328.60,226.58 328.90,226.64 329.20,225.80 329.50,225.99 329.80,223.56 330.10,225.38 330.40,227.14 330.70,224.45 331.00,225.37 331.30,225.97 331.60,226.15 331.90,226.90 332.20,224.32 332.50,225.63 332.80,226.20 333.10,224.53 333.40,225.44 333.70,226.84 334.00,226.37 334.30,225.75 334.60,223.34 334.90,225.15 335.20,225.47 335.50,224.87 335.80,224.96 336.10,227.20 336.40,224.59 336.70,223.88 337.00,224.62 337.30,224.03 337.60,223.86 337.90,223.86 338.20,224.35 338.50,223.81 338.80,222.62 339.10,223.32 339.40,223.71 339.70,222.96 340.00,224.14 340.30,223.85 340.60,222.52 340.90,223.51 341.20,224.76 341.50,224.43 341.80,223.20 342.10,223.89 342.40,222.66 342.70,222.01 343.00,223.44 343.30,223.13 343.60,223.24 343.90,222.74 344.10,222.94 344.20,222.36 344.50,223.28 344.80,223.73 345.10,223.26 345.40,224.13 345.70,222.40 346.00,223.37 346.30,225.27 346.60,225.73 346.90,224.83 347.20,224.79 347.50,224.14 347.80,225.59 348.10,226.12 348.40,224.65 348.70,226.40 349.00,226.57 349.30,226.75 349.40,225.68 349.60,226.93 349.90,225.38 350.20,227.61 350.50,226.57 350.80,225.57 351.10,227.42 351.40,227.24 351.70,225.83 352.00,227.91 352.30,225.43 352.60,226.33 352.90,226.89 353.20,224.19 353.50,226.53 353.80,225.61 354.10,225.53 354.40,224.61 354.70,225.54 355.00,224.34 355.30,224.33 355.60,224.61 355.90,223.92 356.20,225.92 356.50,223.65 356.80,223.99 357.10,224.24 357.40,224.41 357.70,224.94 358.00,224.90 358.30,224.00 358.60,223.89 358.90,224.17 359.20,224.72 359.50,224.59 359.80,223.65 360.10,222.47 360.40,225.59 360.70,224.68 361.00,224.14 361.30,224.17 361.60,223.50 361.90,223.11 362.20,223.58 362.50,223.61 362.80,223.25 363.10,222.56 363.40,223.35 363.70,223.93 364.00,223.03 364.30,223.32 364.60,221.64 364.90,222.94 365.20,222.89 365.50,221.96 365.80,221.47 366.10,222.97 366.40,221.95 366.70,222.81 367.00,222.02 367.30,222.70 367.60,221.87 367.90,220.89 368.20,221.86 368.50,221.59 368.80,222.25 369.10,221.35 369.40,221.35 369.70,222.25 370.00,222.47 370.30,222.17 370.60,222.40 370.90,221.99 371.20,222.27 371.50,222.40 371.80,222.09 372.10,221.87 372.40,221.96 372.70,223.68 373.00,221.89 373.30,221.69 373.60,221.57 373.90,221.76 374.20,221.89 374.50,220.77 374.80,220.02 375.10,221.61 375.40,220.05 375.70,221.30 375.80,221.10 376.00,221.79 376.30,222.12 376.60,221.09 376.90,220.35 377.20,219.85 377.50,220.11 377.80,220.73 378.00,219.14 378.10,220.77 378.40,220.76 378.70,221.33 379.00,220.69 379.30,221.13 379.60,220.63 379.90,220.98 380.20,220.15 380.50,221.73 380.80,222.96 381.10,222.07 381.40,222.38 381.70,221.50 382.00,223.44 382.20,221.88 382.30,222.95 382.60,221.98 382.90,220.72 383.20,221.74 383.50,220.50 383.80,220.13 384.10,219.84 384.40,218.99 384.70,218.22 385.00,218.35 385.30,217.19 385.60,217.03 385.90,215.97 385.90,215.31 386.20,216.39 386.50,216.98 386.80,217.82 387.10,219.17 387.40,217.48 387.70,219.32 388.00,218.05 388.10,219.08 388.30,219.15 388.60,217.34 388.90,217.15 389.20,218.18 389.50,217.65 389.80,217.03 390.10,216.05 390.40,217.80 390.70,215.60 391.00,214.61 391.20,216.22 391.30,215.70 391.60,215.69 391.90,217.58 392.20,217.52 392.50,218.60 392.80,218.99 393.10,218.72 393.40,220.90 393.70,220.96 393.90,220.50 394.00,220.55 394.30,221.53 394.60,220.23 394.90,220.23 395.20,220.37 395.50,219.67 395.80,218.11 396.10,219.43 396.40,219.35 396.50,219.16 396.70,218.99 397.00,216.98 397.30,216.22 397.60,215.77 397.80,213.64 397.90,213.74 398.20,209.55 398.50,204.66 398.80,201.27 398.90,199.12 399.10,200.56 399.40,206.20 399.70,209.73 400.00,213.94 400.00,213.75 400.30,216.32 400.60,217.38 400.80,217.57 400.90,218.63 401.20,219.27 401.50,218.64 401.80,219.32 402.10,219.83 402.40,220.13 402.70,221.32 403.00,222.30 403.30,223.43 403.40,223.09 403.60,223.18 403.90,223.57 404.20,224.00 404.50,222.99 404.80,224.05 405.10,224.00 405.40,223.89 405.70,223.85 406.00,224.01 406.30,224.39 406.60,223.87 406.90,225.41 407.20,225.24 407.50,225.60 407.80,226.05 408.10,226.65 408.40,225.99 408.70,226.69 409.00,225.91 409.30,225.81 409.60,226.37 409.70,229.14 409.90,226.40 410.20,227.75 410.50,228.12 410.80,226.28 411.10,227.46 411.40,227.22 411.70,226.14 411.90,226.94 412.00,223.80 412.30,217.28 412.60,212.70 412.70,210.11 412.90,202.75 413.20,192.69 413.40,188.64 413.50,189.04 413.80,197.17 414.10,204.44 414.30,210.20 414.40,211.02 414.70,214.27 415.00,217.06 415.30,220.31 415.60,224.23 415.60,225.03 415.90,227.90 416.20,228.67 416.50,230.77 416.80,231.28 417.10,232.35 417.40,232.92 417.70,235.39 417.70,233.74 418.00,235.00 418.30,236.31 418.60,235.19 418.90,235.66 419.20,234.39 419.50,233.51 419.80,234.06 420.10,234.01 420.40,235.10 420.70,235.59 421.00,233.48 421.30,233.70 421.40,233.87 421.60,233.97 421.90,233.67 422.20,235.06 422.50,235.66 422.80,236.09 423.10,235.32 423.40,236.56 423.70,235.78 424.00,238.20 424.30,237.18 424.60,238.16 424.90,238.45 425.20,238.76 425.50,238.81 425.60,238.46 425.80,241.36 426.10,240.62 426.40,240.97 426.70,242.67 427.00,241.34 427.30,242.13 427.60,242.02 427.90,243.16 428.20,242.90 428.50,243.00 428.80,242.80 429.10,243.41 429.40,244.28 429.70,242.04 430.00,243.69 430.30,243.66 430.60,243.93 430.90,242.87 430.90,244.79 431.20,240.53 431.50,237.92 431.80,234.66 432.10,230.74 432.40,228.62 432.50,226.54 432.70,219.87 433.00,209.35 433.30,198.60 433.60,187.67 433.60,187.52 433.90,203.21 434.20,215.92 434.40,224.01 434.50,227.01 434.80,234.59 435.10,242.56 435.10,242.29 435.40,242.29 435.70,244.36 436.00,243.35 436.30,243.26 436.60,243.52 436.90,243.73 437.20,245.11 437.50,244.59 437.80,245.23 438.10,242.18 438.40,244.89 438.70,245.55 439.00,246.33 439.30,244.96 439.60,243.73 439.90,245.54 440.00,244.63 440.20,243.62 440.50,244.37 440.80,245.51 441.10,245.52 441.40,245.07 441.70,243.66 442.00,246.28 442.30,243.46 442.60,244.25 442.90,243.19 443.20,245.23 443.50,244.55 443.80,244.85 444.10,244.22 444.40,244.06 444.70,244.20 445.00,242.60 445.30,244.71 445.60,244.59 445.90,243.56 446.20,243.78 446.50,243.95 446.80,244.84 447.10,243.91 447.40,243.55 447.70,243.05 448.00,242.23 448.30,242.84 448.60,243.26 448.90,242.94 448.90,243.19 449.20,242.59 449.50,241.26 449.80,240.06 449.80,240.36 450.10,241.29 450.40,242.41 450.70,244.08 450.70,242.45 451.00,244.82 451.30,243.05 451.60,244.78 451.90,244.31 452.00,245.19 452.20,244.40 452.50,243.67 452.80,245.18 453.10,244.51 453.40,244.45 453.70,244.40 454.00,245.06 454.30,244.88 454.60,244.39 454.90,243.01 455.20,243.81 455.50,244.14 455.80,245.37 456.10,244.28 456.40,243.91 456.70,244.87 457.00,243.91 457.30,244.00 457.60,244.18 457.90,242.98 458.20,244.86 458.50,244.49 458.80,243.98 459.10,243.33 459.40,244.33 459.70,245.18 460.00,243.59 460.30,243.20 460.60,244.23 460.90,242.63 461.20,242.07 461.50,243.32 461.80,243.07 462.10,243.32 462.40,243.06 462.70,243.68 463.00,243.24 463.30,242.93 463.60,243.01 463.90,243.80 464.20,244.02 464.50,243.95 464.80,243.76 465.10,240.73 465.40,242.42 465.70,242.91 466.00,243.27 466.30,241.87 466.60,244.13 466.90,243.26 467.20,242.55 467.50,243.11 467.80,242.70 468.10,242.36 468.40,243.27 468.70,242.52 469.00,241.76 469.30,242.32 469.60,242.68 469.90,241.95 470.00,243.72 470.20,241.94 470.50,244.06 470.80,243.39 471.10,242.00 471.40,242.78 471.70,243.55 472.00,242.47 472.30,241.66 472.60,242.55 472.90,243.86 473.20,241.12 473.50,242.52 473.80,241.96 474.10,241.72 474.40,241.36 474.70,241.27 475.00,242.16 475.30,241.72 475.60,240.43 475.90,242.26 476.20,240.06 476.50,241.48 476.80,241.08 477.10,241.81 477.40,241.15 477.70,241.65 478.00,240.80 478.30,241.51 478.60,241.00 478.90,242.29 479.20,240.08 479.50,241.42 479.80,240.78 480.10,240.45 480.40,239.77 480.70,240.40 481.00,238.82 481.30,238.75 481.60,240.17 481.90,238.33 482.20,240.44 482.50,239.03 482.80,239.31 483.10,239.08 483.40,239.26 483.70,238.66 484.00,238.53 484.30,238.67 484.60,239.51 484.90,239.55 485.20,239.63 485.50,238.94 485.80,238.51 486.10,237.40 486.40,239.14 486.70,239.29 487.00,238.35 487.30,239.26 487.60,239.61 487.90,238.70 488.20,239.41 488.50,238.82 488.80,237.25 489.10,238.16 489.40,238.15 489.50,238.83 489.70,237.63 490.00,237.72 490.30,237.09 490.60,237.55 490.90,237.39 491.20,237.84 491.50,237.48 491.80,236.79 492.10,236.64 492.40,236.35 492.70,236.16 493.00,237.06 493.30,233.86 493.60,235.43 493.90,235.64 494.20,236.11 494.50,234.30 494.80,235.25 495.10,235.50 495.40,234.38 495.70,233.14 496.00,234.14 496.10,233.49 496.30,235.23 496.60,234.59 496.90,237.02 497.20,236.24 497.50,235.95 497.80,236.58 498.10,236.53 498.40,238.03 498.70,239.24 499.00,238.35 499.30,239.61 499.60,238.63 499.90,240.00 500.20,241.95 500.50,239.65 500.80,242.13 501.10,242.59 501.40,240.83 501.70,241.70 502.00,242.59 502.30,244.59 502.60,244.08 502.90,244.81 503.20,245.99 503.50,246.07 503.80,246.66 504.10,246.76 504.40,248.35 504.70,247.42 505.00,249.76 505.30,248.75 505.60,248.90 505.90,250.48 506.00,250.51 506.20,243.78 506.50,238.05 506.80,229.49 507.10,222.48 507.20,221.20 507.40,205.11 507.70,183.77 508.00,160.96 508.30,140.43 508.30,138.84 508.60,161.33 508.90,184.68 509.20,208.14 509.50,232.22 509.80,255.43 509.80,256.10 510.10,231.71 510.40,207.89 510.50,200.08 510.70,169.70 511.00,124.98 511.20,95.32 511.30,104.85 511.60,132.47 511.90,160.19 512.20,189.56 512.30,199.93 512.50,219.35 512.80,253.11 513.00,275.15 513.10,274.90 513.40,275.22 513.70,277.08 514.00,277.47 514.30,277.27 514.60,278.53 514.90,279.07 515.20,278.52 515.40,280.60 515.50,278.96 515.80,279.26 516.10,278.90 516.40,279.45 516.70,278.85 517.00,279.47 517.30,280.00 517.60,279.64 517.90,279.44 518.20,280.25 518.50,279.14 518.80,279.95 519.10,279.34 519.40,279.52 519.70,279.38 520.00,279.37 520.30,279.24 520.60,278.87 520.90,278.93 521.20,279.37 521.50,279.13 521.80,278.67 522.10,278.90 522.40,278.95 522.70,279.28 523.00,279.44 523.30,279.45 523.60,279.17 523.90,279.52 524.20,278.94 524.50,278.30 524.80,279.59 525.10,278.88 525.40,279.19 525.70,279.04 526.00,279.82 526.30,278.93 526.60,279.51 526.90,279.08 527.20,278.64 527.50,278.38 527.80,279.20 528.10,279.07 528.40,279.16 528.70,279.58 529.00,278.83 529.30,278.82 529.60,278.64 529.90,278.77 530.00,278.62 530.20,278.42 530.50,279.77 530.80,278.09 531.10,279.09 531.40,279.22 531.70,279.13 532.00,278.65 532.30,279.00 532.60,278.88 532.90,278.58 533.20,279.00 533.50,278.80 533.80,278.68 534.10,279.18 534.40,278.33 534.70,278.96 535.00,278.43 535.30,278.85 535.60,278.65 535.90,278.68 536.20,278.09 536.50,278.13 536.80,278.04 537.10,278.43 537.40,278.60 537.70,278.66 538.00,277.85 538.30,278.00 538.60,277.13 538.90,276.75 539.20,277.25 539.50,277.25 539.80,276.76 539.90,276.60 540.10,277.71 540.40,277.23 540.70,276.97 541.00,278.90 541.30,278.08 541.60,278.00 541.90,278.60 542.20,278.11 542.50,279.33 542.80,278.10 543.10,278.40 543.40,279.13 543.70,279.06 544.00,280.26 544.30,279.13 544.60,279.76 544.90,280.43 545.20,280.80 545.50,281.22 545.80,281.13 545.80,282.01 546.10,279.54 546.40,278.56 546.70,277.57 547.00,275.73 547.20,274.85 547.30,275.14 547.60,276.25 547.90,277.23 548.20,278.68 548.40,279.01 548.50,278.58 548.80,273.91 549.10,271.77 549.20,270.34 549.40,267.27 549.70,262.48 550.00,258.12 550.30,254.74 550.40,252.88 550.60,255.64 550.90,258.95 551.20,263.63 551.50,266.67 551.70,269.66 551.80,270.08 552.10,274.34 552.40,278.62 552.70,281.95 552.80,283.17 553.00,283.66 553.30,283.21 553.60,283.73 553.90,282.04 554.20,283.33 554.50,283.28 554.80,282.35 555.10,282.49 555.40,283.52 555.70,282.72 556.00,283.02 556.30,283.70 556.60,283.43 556.90,283.94 557.20,283.49 557.50,284.15 557.80,284.63 557.80,284.42 558.10,282.39 558.40,282.73 558.70,281.49 558.70,281.05 559.00,283.20 559.30,282.89 559.60,285.57 559.60,284.32 559.90,285.16 560.20,284.28 560.50,283.55 560.80,284.03 561.10,283.99 561.40,283.95 561.70,284.06 562.00,283.08 562.30,283.62 562.60,283.67 562.90,283.17 563.20,282.84 563.50,282.81 563.80,283.57 564.10,283.60 564.40,282.88 564.70,282.66 565.00,283.82 565.30,282.59 565.60,283.37 565.90,282.96 566.20,282.55 566.50,283.43 566.80,283.33 567.10,284.12 567.40,284.55 567.70,283.53 568.00,284.15 568.30,284.24 568.60,283.62 568.90,283.54 569.20,284.70 569.50,283.86 569.80,284.03 570.10,283.91 570.40,283.97 570.70,283.74 571.00,284.33 571.30,284.53 571.60,283.78 571.90,283.33 572.20,283.99 572.50,283.33 572.80,283.76 573.10,284.65 573.40,285.20 573.70,284.39 574.00,283.81 574.30,284.68 574.60,283.37 574.90,284.08 575.20,285.08 575.50,284.71 575.80,283.72 576.10,283.54 576.40,284.60 576.70,284.11 577.00,283.77 577.30,284.11 577.60,283.57 577.90,282.85 578.00,283.97 578.20,282.83 578.50,281.99 578.80,281.18 579.00,281.45 579.10,281.17 579.40,282.43 579.70,282.67 580.00,283.94 580.00,283.38 580.30,283.38 580.60,282.92 580.90,283.44 581.20,284.39 581.50,285.56 581.80,283.75 582.10,283.94 582.40,284.63 582.70,284.74 583.00,284.24 583.30,284.58 583.60,283.79 583.90,284.33 584.20,284.80 584.50,285.05 584.80,284.16 585.10,284.03 585.40,284.27 585.70,284.48 586.00,284.13 586.30,283.50 586.60,283.93 586.90,284.14 587.20,283.34 587.50,283.00 587.80,283.77 588.10,283.65 588.40,283.87 588.70,283.42 589.00,283.03 589.30,283.07 589.60,282.75 589.90,282.74 590.20,282.88 590.50,282.88 590.80,283.58 591.10,282.52 591.40,283.06 591.50,282.83 591.70,282.70 592.00,280.54 592.30,278.65 592.50,278.13 592.60,278.44 592.90,280.04 593.20,282.77 593.50,284.22 593.50,284.68 593.80,284.43 594.10,284.25 594.40,283.95 594.70,283.38 595.00,284.18 595.30,283.89 595.60,284.18 595.90,283.90 596.20,283.64 596.50,283.56 596.80,284.40 597.10,284.76 597.40,284.15 597.70,284.59 598.00,285.11 598.30,284.22 598.60,284.54 598.90,284.27 599.20,285.35 599.50,284.99 599.80,284.69 600.10,284.16 600.40,284.82 600.70,285.32 601.00,284.72 601.30,284.62 601.60,285.06 601.90,284.19 602.20,284.73 602.50,284.95 602.80,284.31 603.10,284.26 603.40,284.72 603.70,284.54 604.00,284.45 604.30,284.61 604.60,284.57 604.90,284.01 605.20,284.07 605.50,284.51 605.80,284.77 606.10,284.84 606.40,283.84 606.70,284.71 607.00,284.59 607.30,284.28 607.60,284.58 607.90,284.82 608.20,285.34 608.50,284.17 608.80,285.00 609.00,284.76 609.10,284.43 609.40,283.93 609.70,282.66 609.90,281.09 610.00,281.81 610.30,283.19 610.60,283.59 610.80,285.33 610.90,284.84 611.20,284.86 611.50,284.84 611.80,285.40 612.10,284.52 612.40,284.26 612.70,285.12 613.00,284.07 613.30,284.02 613.60,283.62 613.90,284.73 614.20,284.40 614.50,284.54 614.80,284.47 615.10,284.40 615.40,284.17 615.70,284.22 616.00,284.80 616.30,284.68 616.60,285.34 616.90,284.23 617.20,284.29 617.50,283.97 617.80,284.93 618.10,283.64 618.40,284.40 618.70,284.57 619.00,283.74 619.30,284.00 619.60,282.62 619.90,283.30 620.20,282.66 620.50,283.41 620.80,283.29 621.10,282.92 621.40,283.67 621.70,283.42 622.00,283.05 622.30,283.10 622.60,282.74 622.90,283.39 623.20,284.50 623.50,283.34 623.80,283.95 624.10,283.63 624.40,284.33 624.70,284.26 625.00,284.05 625.30,283.43 625.60,284.04 625.90,284.84 626.20,284.21 626.50,284.61 626.80,284.10 627.10,283.46 627.40,284.45 627.70,284.37 628.00,283.94 628.30,284.00 628.60,284.27 628.90,283.86 629.20,284.27 629.50,284.03 629.80,283.08 630.10,284.08 630.40,283.90 630.70,283.81 631.00,284.37 631.30,283.98 631.60,284.43 631.90,284.67 632.20,284.23 632.50,283.45 632.80,283.79 633.10,284.50 633.40,283.95 633.70,283.68 634.00,283.99 634.30,284.24 634.60,284.12 634.90,284.29 635.00,283.63 635.20,283.80 635.50,283.69 635.80,283.67 636.10,282.61 636.40,283.29 636.70,282.64 637.00,283.68 637.30,283.58 637.60,283.45 637.90,282.88 638.20,282.13 638.50,282.60 638.80,281.93 639.10,282.15 639.40,281.35 639.70,281.38 640.00,281.75 640.30,282.24 640.60,281.35 640.90,282.28 641.00,282.48 641.20,280.77 641.50,281.45 641.80,281.16 642.10,281.64 642.40,281.58 642.70,281.92 643.00,282.52 643.30,282.65 643.60,282.51 643.90,282.57 644.20,282.80 644.50,282.99 644.80,283.37 645.10,283.30 645.40,283.69 645.70,283.05 646.00,284.14 646.30,284.70 646.60,284.14 646.90,283.55 647.20,284.91 647.50,284.29 647.80,283.23 648.10,284.61 648.40,285.12 648.70,285.18 649.00,285.74 649.30,285.64 649.60,285.59 649.90,284.84 650.20,285.39 650.50,286.13 650.80,286.50 651.10,285.87 651.40,286.17 651.60,286.70 651.70,285.54 652.00,285.29 652.30,285.81 652.60,285.77 652.90,285.17 653.20,284.10 653.50,284.87 653.80,284.00 654.10,284.64 654.40,284.07 654.70,284.01 655.00,283.96 655.30,283.24 655.60,283.65 655.90,283.64 656.20,283.08 656.50,283.31 656.80,282.25 657.10,282.76 657.40,282.30 657.70,281.57 658.00,281.80 658.30,281.44 658.50,281.34 658.60,281.80 658.90,282.72 659.20,282.58 659.50,283.25 659.80,283.02 660.10,284.18 660.40,285.10 660.70,285.38 661.00,285.65 661.30,285.61 661.60,285.81 661.90,286.59 662.20,286.42 662.50,286.86 662.80,288.22 663.10,287.81 663.40,289.45 663.50,288.17 663.70,289.06 664.00,288.45 664.30,289.17 664.60,288.78 664.90,289.41 665.20,289.49 665.50,289.52 665.80,290.11 666.10,290.71 666.40,289.91 666.70,290.69 667.00,290.44 667.30,290.47 667.60,291.54 667.90,289.65 668.20,290.37 668.50,289.90 668.80,290.60 669.10,290.67 669.40,292.49 669.70,290.96 670.00,291.62 670.30,291.42 670.60,290.65 670.90,291.08 671.20,291.63 671.40,290.98 671.50,290.93 671.80,290.90 672.10,289.87 672.40,290.04 672.70,290.43 673.00,290.41 673.30,289.65 673.60,289.81 673.90,289.78 674.20,289.65 674.50,289.90 674.80,289.50 675.10,289.37 675.40,288.50 675.40,288.63 675.70,289.37 676.00,288.63 676.30,289.58 676.60,289.28 676.90,289.34 677.20,290.12 677.50,289.66 677.80,289.72 678.10,289.96 678.40,290.44 678.70,291.80 679.00,289.79 679.30,290.88 679.60,290.93 679.90,291.61 680.20,291.16 680.50,290.35 680.80,292.18 681.10,291.23 681.40,291.83 681.70,291.38 682.00,291.65 682.20,292.02 682.30,291.58 682.60,288.46 682.90,284.71 683.20,282.10 683.40,279.65 683.50,278.89 683.80,275.93 684.10,273.15 684.40,269.59 684.50,268.80 684.70,271.40 685.00,275.01 685.30,278.26 685.60,283.03 685.80,284.46 685.90,285.67 686.20,287.52 686.50,290.07 686.80,290.66 687.10,294.67 687.30,295.06 687.40,294.63 687.70,295.37 688.00,296.47 688.30,295.84 688.60,295.24 688.90,295.75 689.20,296.74 689.50,295.70 689.80,296.44 690.10,296.58 690.40,297.88 690.70,296.98 691.00,297.90 691.30,297.21 691.60,297.36 691.90,298.36 692.20,298.39 692.30,297.43"/>
<polyline fill="none" stroke="#000000" stroke-width="1.1" stroke-linejoin="round"  points="43.00,90.84 43.30,92.97 43.60,92.55 43.90,91.01 44.20,93.33 44.50,94.49 44.80,94.48 45.10,95.00 45.40,95.00 45.70,95.57 46.00,94.80 46.30,94.54 46.60,99.15 46.90,96.87 47.20,98.77 47.50,96.56 47.80,99.74 47.90,98.34 48.10,104.71 48.40,98.87 48.70,99.47 49.00,103.02 49.30,103.84 49.60,99.19 49.90,103.47 50.20,104.99 50.50,102.18 50.80,105.75 51.10,104.37 51.40,104.18 51.70,105.76 52.00,106.14 52.30,105.23 52.60,111.56 52.70,107.49 52.90,107.29 53.20,110.22 53.50,109.14 53.80,111.78 54.10,109.64 54.40,111.05 54.70,111.08 55.00,111.64 55.30,111.50 55.60,112.13 55.90,115.42 56.20,112.14 56.50,112.81 56.80,113.58 57.10,115.46 57.40,115.61 57.70,116.87 58.00,113.64 58.30,116.56 58.60,116.23 58.90,116.41 59.20,117.47 59.50,114.42 59.80,118.31 60.10,118.44 60.40,116.28 60.70,118.74 61.00,121.69 61.30,118.95 61.60,120.85 61.90,119.88 62.20,119.28 62.50,119.43 62.80,120.57 62.90,123.32 63.10,122.67 63.40,120.45 63.70,123.33 64.00,121.71 64.30,120.97 64.60,122.90 64.90,120.93 65.20,120.05 65.50,124.77 65.80,120.02 66.10,124.00 66.40,120.97 66.70,123.61 67.00,123.64 67.30,123.57 67.60,121.14 67.90,124.77 68.20,125.23 68.50,124.21 68.80,125.86 69.10,127.86 69.40,125.46 69.70,127.30 70.00,125.35 70.30,128.03 70.60,128.68 70.90,131.83 71.20,129.56 71.50,129.04 71.80,130.81 71.80,126.96 72.10,130.30 72.40,127.82 72.70,127.80 73.00,130.61 73.30,129.37 73.60,131.24 73.90,127.02 74.20,129.90 74.50,128.81 74.80,129.39 75.10,126.99 75.40,131.65 75.70,130.67 76.00,128.95 76.30,128.53 76.60,129.43 76.90,133.14 77.20,130.91 77.50,130.66 77.80,132.07 78.10,131.41 78.40,131.85 78.70,132.74 79.00,132.17 79.30,133.11 79.60,129.90 79.90,131.93 80.20,131.31 80.50,132.08 80.70,131.85 80.80,130.85 81.10,131.24 81.40,133.23 81.70,130.83 82.00,129.72 82.30,132.59 82.60,133.18 82.90,131.24 83.20,131.88 83.50,130.39 83.80,131.41 84.10,133.49 84.40,133.04 84.70,132.05 85.00,131.43 85.30,129.35 85.60,132.45 85.90,132.73 86.20,133.73 86.50,135.29 86.80,132.78 87.10,133.73 87.40,130.52 87.70,134.17 88.00,133.63 88.30,134.38 88.60,133.25 88.90,132.82 89.20,134.33 89.50,130.86 89.80,132.78 90.10,133.33 90.40,130.27 90.70,129.55 90.80,131.90 91.00,131.28 91.30,131.91 91.60,131.86 91.90,129.58 92.20,131.27 92.50,132.51 92.80,130.22 93.10,130.38 93.40,129.14 93.70,132.28 94.00,134.16 94.30,129.09 94.60,132.53 94.90,132.87 95.20,130.72 95.50,131.14 95.80,130.23 96.10,130.79 96.40,132.43 96.70,133.37 97.00,132.73 97.30,134.09 97.60,133.27 97.80,131.32 97.90,135.39 98.20,134.54 98.50,131.11 98.80,134.45 99.10,131.83 99.40,130.67 99.70,132.77 100.00,125.16 100.30,125.79 100.40,129.00 100.60,127.61 100.90,126.79 101.20,130.88 101.50,129.57 101.80,127.11 102.00,128.22 102.10,130.66 102.40,132.75 102.70,127.50 103.00,131.69 103.30,131.42 103.60,130.03 103.90,133.26 104.20,131.81 104.50,134.26 104.80,138.43 105.10,137.52 105.40,138.73 105.70,139.22 106.00,139.61 106.30,141.32 106.60,138.71 106.90,140.68 107.20,143.26 107.40,141.24 107.50,141.72 107.80,144.48 108.10,145.18 108.40,142.04 108.70,141.92 109.00,144.31 109.30,144.02 109.60,142.75 109.90,144.94 110.20,145.08 110.50,144.55 110.80,149.23 111.10,146.99 111.20,146.21 111.40,146.53 111.70,149.56 112.00,146.67 112.30,143.87 112.60,145.54 112.90,145.20 113.20,144.24 113.50,145.58 113.80,145.61 114.10,145.15 114.40,144.49 114.70,146.55 115.00,142.75 115.30,146.50 115.60,145.18 115.90,145.54 116.20,141.32 116.50,147.59 116.80,142.17 117.10,143.43 117.40,145.70 117.70,143.66 118.00,143.90 118.30,140.97 118.60,143.72 118.90,144.68 119.20,145.37 119.40,143.83 119.50,144.59 119.80,144.89 120.10,143.12 120.40,142.98 120.70,147.22 121.00,142.82 121.30,146.10 121.60,144.32 121.90,146.56 122.20,143.31 122.50,145.19 122.80,144.96 123.10,144.15 123.40,145.04 123.70,143.40 124.00,144.51 124.30,144.04 124.60,145.87 124.90,144.54 125.20,142.50 125.50,144.09 125.80,144.50 126.10,143.21 126.40,146.68 126.70,145.18 127.00,145.81 127.30,143.24 127.60,143.76 127.90,145.91 128.20,142.03 128.50,144.81 128.80,144.34 129.10,143.41 129.40,144.34 129.70,142.53 130.00,144.60 130.30,142.37 130.60,142.30 130.90,146.53 131.20,143.25 131.50,141.04 131.80,145.88 132.10,143.13 132.40,138.78 132.60,144.20 132.70,145.73 133.00,144.74 133.30,146.82 133.60,143.85 133.90,144.93 134.20,142.35 134.50,144.14 134.80,146.24 135.10,144.58 135.40,143.99 135.70,140.56 136.00,142.98 136.30,141.43 136.60,144.55 136.90,142.00 137.20,143.54 137.50,141.19 137.80,145.51 138.10,140.47 138.40,142.31 138.70,146.02 139.00,142.02 139.30,140.14 139.60,142.34 139.90,142.80 140.20,142.51 140.50,137.96 140.80,141.34 141.10,137.60 141.40,143.91 141.70,141.01 142.00,140.15 142.30,141.93 142.60,141.64 142.90,139.00 143.20,143.44 143.50,140.50 143.80,138.10 144.10,143.07 144.40,143.25 144.70,142.76 145.00,141.58 145.30,139.22 145.60,142.00 145.80,143.36 145.90,141.63 146.20,142.77 146.50,138.91 146.80,141.63 147.10,141.38 147.40,137.43 147.70,137.11 148.00,138.46 148.30,139.64 148.60,140.17 148.90,139.05 149.20,139.28 149.50,139.20 149.80,139.55 150.10,140.38 150.40,140.31 150.70,139.52 151.00,140.13 151.30,139.12 151.60,141.22 151.90,139.29 152.20,142.82 152.50,140.30 152.80,140.88 153.10,139.33 153.40,140.07 153.70,140.95 154.00,140.77 154.30,139.81 154.60,138.99 154.90,140.94 155.00,141.17 155.20,141.73 155.50,142.71 155.80,140.11 156.10,137.30 156.40,140.10 156.70,137.25 157.00,137.98 157.30,141.49 157.60,140.57 157.90,138.45 158.20,138.25 158.50,138.89 158.80,136.02 159.10,139.33 159.40,137.76 159.70,140.99 160.00,136.12 160.30,139.15 160.60,136.22 160.90,138.68 161.20,135.27 161.50,137.76 161.80,135.68 162.10,134.86 162.40,135.73 162.70,136.53 163.00,136.23 163.30,137.92 163.60,136.52 163.90,130.81 164.20,134.15 164.50,131.38 164.80,133.68 165.10,135.00 165.40,131.57 165.60,131.55 165.70,133.48 166.00,132.56 166.30,135.31 166.60,133.06 166.90,133.17 167.20,134.89 167.50,131.10 167.80,131.71 168.10,129.96 168.40,131.81 168.70,132.91 169.00,133.32 169.30,130.98 169.60,129.81 169.90,129.65 170.20,128.61 170.50,131.00 170.80,132.99 171.10,127.07 171.40,127.45 171.70,133.25 172.00,128.56 172.30,131.79 172.60,129.39 172.90,132.78 173.20,132.91 173.50,132.05 173.80,133.19 174.00,132.03 174.10,132.14 174.40,131.81 174.70,128.28 174.80,124.67 175.00,126.00 175.30,129.25 175.60,131.60 175.60,131.99 175.90,130.69 176.20,132.48 176.50,131.28 176.80,131.60 177.10,130.84 177.40,131.63 177.70,128.58 178.00,132.88 178.30,130.78 178.60,130.82 178.90,130.98 179.20,131.63 179.50,130.99 179.80,130.10 180.10,129.35 180.40,126.93 180.70,129.82 181.00,128.90 181.30,128.83 181.60,133.12 181.90,126.24 182.20,129.24 182.50,131.04 182.80,130.59 183.10,130.98 183.40,126.92 183.70,127.35 184.00,129.80 184.30,128.26 184.60,131.38 184.90,128.90 185.20,128.73 185.50,129.00 185.80,127.72 186.10,128.20 186.40,126.78 186.70,127.64 186.70,126.89 187.00,127.87 187.30,124.99 187.60,124.65 187.90,127.54 188.20,126.93 188.50,124.78 188.80,125.72 189.10,124.17 189.40,128.88 189.70,122.90 190.00,127.94 190.30,123.69 190.60,125.50 190.90,124.23 191.20,123.87 191.50,125.81 191.80,125.45 192.10,123.51 192.40,122.34 192.70,126.93 193.00,125.69 193.30,123.50 193.60,122.65 193.90,123.45 194.20,122.99 194.50,124.65 194.80,121.08 195.10,122.55 195.40,121.15 195.70,124.38 196.00,125.04 196.30,121.86 196.60,122.72 196.90,123.94 197.20,121.04 197.50,119.86 197.80,122.85 198.10,121.83 198.40,120.54 198.70,123.06 199.00,120.96 199.30,117.59 199.60,120.83 199.90,120.02 200.20,122.93 200.50,119.70 200.80,119.18 201.10,119.98 201.40,119.45 201.70,116.58 202.00,118.82 202.30,117.92 202.60,120.53 202.60,122.14 202.90,116.68 203.20,117.10 203.50,117.49 203.80,117.99 204.10,118.15 204.40,119.55 204.70,121.40 205.00,117.75 205.30,117.54 205.60,117.21 205.90,122.07 206.20,122.55 206.50,118.10 206.80,118.06 207.10,120.99 207.40,122.62 207.70,122.58 208.00,121.34 208.30,122.19 208.60,121.65 208.90,120.27 209.20,124.21 209.50,121.15 209.80,119.36 210.10,120.38 210.40,118.66 210.70,121.17 211.00,122.93 211.30,119.21 211.60,123.13 211.90,124.79 212.20,122.20 212.50,119.91 212.80,120.60 213.10,121.64 213.20,120.27 213.40,120.16 213.70,121.43 214.00,121.23 214.30,122.16 214.60,118.92 214.90,123.47 215.20,121.78 215.50,121.11 215.80,118.24 216.10,121.66 216.40,117.93 216.70,120.99 217.00,119.42 217.30,115.90 217.60,116.26 217.90,119.65 218.20,117.93 218.50,115.77 218.80,116.04 219.10,115.73 219.40,113.88 219.70,114.50 219.80,113.75 220.00,114.79 220.30,117.16 220.60,115.81 220.90,119.42 221.20,119.33 221.50,121.25 221.80,122.30 222.10,123.70 222.40,123.51 222.70,124.41 223.00,123.74 223.30,125.67 223.60,124.03 223.90,125.77 224.20,128.07 224.50,127.48 224.80,129.00 225.10,127.31 225.40,131.95 225.70,129.62 226.00,131.99 226.30,132.15 226.40,133.97 226.60,131.92 226.90,131.01 227.20,129.64 227.50,132.25 227.80,130.87 228.10,133.67 228.40,135.13 228.70,129.25 229.00,130.74 229.30,133.30 229.60,134.79 229.90,133.35 230.20,133.43 230.50,133.81 230.80,134.03 231.10,135.88 231.40,134.37 231.70,131.55 232.00,132.93 232.30,134.17 232.60,132.66 232.90,133.67 233.20,133.34 233.50,133.15 233.80,135.45 234.10,133.76 234.40,132.65 234.40,133.21 234.70,133.93 235.00,136.74 235.30,133.22 235.60,134.63 235.90,132.46 236.20,127.63 236.50,131.10 236.80,128.54 237.10,127.18 237.40,127.08 237.70,131.19 238.00,125.30 238.30,126.42 238.60,128.90 238.90,127.76 239.20,123.63 239.50,125.93 239.80,125.01 240.10,125.28 240.40,126.56 240.70,124.17 241.00,124.32 241.00,127.33 241.30,122.74 241.60,125.81 241.90,127.84 242.20,125.73 242.50,127.36 242.80,126.87 243.10,129.82 243.40,129.15 243.70,131.98 244.00,132.91 244.30,131.87 244.60,131.72 244.90,133.28 245.00,133.08 245.20,130.87 245.50,134.37 245.80,132.81 246.10,133.54 246.40,129.90 246.70,133.33 247.00,135.15 247.30,132.59 247.60,129.11 247.90,131.37 248.20,131.08 248.50,131.41 248.80,130.58 249.10,131.66 249.40,130.03 249.70,131.08 250.00,129.53 250.00,130.86 250.30,132.17 250.60,129.63 250.90,131.35 251.20,128.67 251.50,129.31 251.80,129.32 252.10,131.48 252.40,127.98 252.70,130.92 253.00,126.30 253.30,128.12 253.60,129.56 253.90,128.91 254.20,125.88 254.50,125.26 254.80,128.39 255.10,124.70 255.40,127.46 255.60,125.55 255.70,126.42 256.00,130.26 256.30,129.13 256.60,128.09 256.90,124.63 257.20,127.49 257.50,127.18 257.80,127.04 258.10,129.44 258.40,124.57 258.70,127.91 259.00,127.61 259.30,126.20 259.30,130.14 259.60,125.51 259.90,127.81 260.20,128.10 260.50,124.63 260.80,126.09 261.10,127.09 261.40,130.20 261.70,130.75 262.00,130.49 262.30,130.25 262.60,126.65 262.90,130.91 263.00,129.88 263.20,131.91 263.50,131.10 263.80,131.43 264.10,127.83 264.40,126.87 264.70,122.73 265.00,123.37 265.30,120.07 265.30,123.49 265.60,118.88 265.90,119.24 266.20,117.05 266.50,116.42 266.70,117.13 266.80,115.99 267.10,118.75 267.40,118.27 267.70,123.67 268.00,121.87 268.30,126.06 268.50,128.88 268.60,121.07 268.90,122.21 269.20,122.26 269.50,123.26 269.80,119.32 269.90,120.27 270.10,120.80 270.40,126.44 270.70,127.10 271.00,134.00 271.30,131.37 271.60,136.78 271.80,145.25 271.90,142.51 272.20,140.45 272.50,145.17 272.80,142.98 273.10,142.76 273.10,140.30 273.40,139.71 273.70,137.22 274.00,131.35 274.30,132.64 274.60,128.98 274.90,128.96 275.20,126.56 275.50,120.94 275.50,120.86 275.80,123.39 276.10,125.39 276.40,124.89 276.70,126.62 276.90,128.60 277.00,127.26 277.30,125.59 277.60,121.20 277.80,117.41 277.90,111.69 278.20,103.26 278.20,101.28 278.50,106.15 278.80,111.15 279.10,113.97 279.20,117.50 279.40,121.05 279.70,135.44 280.00,145.47 280.10,153.61 280.30,152.11 280.60,152.16 280.90,153.94 281.20,156.05 281.50,154.79 281.50,155.85 281.80,155.69 282.10,160.36 282.40,156.41 282.70,153.05 283.00,157.54 283.30,160.43 283.60,154.56 283.90,161.77 284.20,155.88 284.50,157.55 284.80,154.89 285.10,155.27 285.40,153.58 285.70,153.75 286.00,151.84 286.30,157.10 286.60,153.19 286.90,155.54 287.00,155.42 287.20,153.78 287.50,154.88 287.80,154.61 288.10,153.91 288.40,154.78 288.70,154.76 289.00,152.98 289.30,152.52 289.60,153.26 289.90,154.87 290.20,156.96 290.50,157.13 290.80,155.25 291.10,156.31 291.40,154.96 291.70,156.56 292.00,154.93 292.30,155.31 292.60,154.13 292.90,154.50 293.20,157.54 293.50,152.31 293.80,154.18 294.10,153.09 294.40,155.54 294.70,156.85 295.00,153.25 295.30,149.10 295.60,154.62 295.90,154.54 296.20,150.66 296.50,152.96 296.80,153.16 297.10,149.35 297.40,154.19 297.70,153.70 298.00,153.26 298.30,150.99 298.60,151.46 298.90,151.47 299.20,153.20 299.50,150.67 299.80,154.60 300.00,152.69 300.10,148.34 300.40,154.57 300.70,151.86 301.00,150.52 301.30,151.43 301.60,148.08 301.90,151.28 302.20,146.77 302.50,149.06 302.80,152.93 303.10,152.72 303.40,150.03 303.70,148.97 304.00,152.11 304.30,150.46 304.60,150.89 304.90,151.57 305.20,148.73 305.50,151.84 305.80,147.00 306.10,152.96 306.40,147.94 306.70,149.54 307.00,149.50 307.30,151.87 307.60,151.95 307.90,151.34 308.20,151.67 308.50,151.56 308.80,150.65 309.10,147.55 309.40,146.83 309.70,146.75 310.00,150.39 310.30,149.94 310.60,149.94 310.90,150.37 311.20,149.42 311.50,147.96 311.80,146.93 312.10,146.08 312.40,151.10 312.70,150.42 313.00,146.50 313.30,148.18 313.60,149.27 313.90,151.11 314.20,147.38 314.50,148.64 314.80,150.25 315.10,145.41 315.40,147.08 315.70,148.24 316.00,147.11 316.30,151.84 316.30,149.83 316.60,149.14 316.90,147.62 317.20,151.07 317.50,151.06 317.80,149.52 318.10,150.01 318.40,148.65 318.70,151.32 319.00,153.24 319.30,153.81 319.60,153.44 319.90,154.18 320.20,152.14 320.50,152.64 320.80,155.74 321.10,154.76 321.40,152.94 321.70,155.36 322.00,156.15 322.30,156.19 322.60,155.44 322.90,154.67 322.90,156.12 323.20,158.21 323.50,155.58 323.80,154.19 324.10,155.87 324.40,153.26 324.70,155.73 325.00,154.87 325.30,157.00 325.60,155.60 325.90,157.20 326.20,159.29 326.50,155.09 326.80,154.06 327.10,156.21 327.40,155.29 327.70,155.66 328.00,154.41 328.30,156.33 328.60,155.50 328.90,151.78 329.20,154.97 329.50,155.92 329.80,157.32 330.10,154.39 330.40,154.00 330.70,157.23 331.00,154.28 331.30,155.43 331.60,155.99 331.90,156.38 332.20,155.11 332.50,153.19 332.80,156.68 333.10,154.25 333.40,154.10 333.70,158.31 334.00,156.46 334.30,153.28 334.60,154.30 334.90,154.76 335.20,153.98 335.50,152.08 335.80,156.63 336.10,156.60 336.40,155.70 336.70,154.59 337.00,155.56 337.30,156.21 337.60,153.34 337.90,154.44 338.20,153.99 338.50,156.00 338.80,155.20 339.10,152.54 339.40,153.61 339.70,157.52 340.00,152.95 340.30,154.79 340.60,153.49 340.90,156.62 341.20,154.48 341.50,153.92 341.80,152.77 342.10,154.39 342.40,156.27 342.70,156.10 343.00,152.87 343.30,157.72 343.60,154.78 343.90,153.47 344.20,155.43 344.50,154.16 344.80,154.17 345.10,153.99 345.40,154.78 345.40,153.99 345.70,151.49 346.00,154.69 346.30,152.47 346.60,154.83 346.70,153.51 346.90,153.98 347.20,153.84 347.50,156.28 347.80,154.21 348.10,153.75 348.40,156.61 348.70,152.19 349.00,156.72 349.30,158.32 349.60,157.89 349.90,161.25 350.20,160.90 350.50,160.47 350.80,160.15 351.10,163.14 351.40,160.73 351.70,161.70 352.00,164.16 352.30,164.47 352.60,167.45 352.90,164.34 353.20,162.24 353.50,167.12 353.80,168.82 354.10,167.19 354.40,170.78 354.70,171.89 354.70,167.97 355.00,168.40 355.30,167.23 355.60,170.28 355.90,170.63 356.20,170.47 356.50,167.44 356.80,168.20 357.10,167.07 357.40,166.73 357.70,167.13 358.00,166.71 358.30,168.99 358.60,169.97 358.90,170.31 359.20,169.26 359.50,168.22 359.80,169.35 360.10,170.35 360.40,168.99 360.70,169.62 361.00,169.08 361.30,168.78 361.60,169.74 361.90,167.88 362.20,171.47 362.50,167.16 362.80,170.49 363.10,167.45 363.40,172.15 363.70,171.04 364.00,168.22 364.30,168.77 364.60,167.62 364.90,169.36 365.20,170.13 365.50,173.67 365.80,167.25 366.10,171.60 366.40,168.68 366.70,170.19 367.00,171.28 367.30,170.84 367.60,170.76 367.90,169.85 368.20,170.27 368.50,170.63 368.80,172.44 369.10,168.13 369.40,169.81 369.70,168.63 370.00,169.15 370.30,169.48 370.60,172.67 370.90,174.46 371.20,173.25 371.50,169.16 371.80,171.34 372.10,169.46 372.40,172.17 372.70,173.65 373.00,172.62 373.20,173.16 373.30,171.36 373.60,167.92 373.90,167.41 374.20,169.98 374.50,170.51 374.80,171.05 375.10,167.74 375.40,167.77 375.70,167.38 376.00,168.01 376.30,165.45 376.60,163.08 376.90,166.00 377.20,164.26 377.50,163.61 377.80,160.33 378.10,161.88 378.40,158.59 378.50,157.97 378.70,161.50 379.00,162.11 379.30,164.71 379.60,167.13 379.90,165.69 380.20,169.68 380.50,166.77 380.80,169.99 381.10,167.65 381.40,170.95 381.70,171.22 382.00,172.40 382.30,174.73 382.60,171.68 382.80,175.70 382.90,174.89 383.20,178.27 383.50,180.56 383.80,181.13 384.10,182.92 384.30,182.83 384.40,185.72 384.70,183.90 385.00,185.88 385.30,182.91 385.60,187.56 385.90,183.67 386.20,187.26 386.50,184.64 386.50,186.08 386.80,184.88 387.10,186.19 387.40,185.09 387.70,187.21 388.00,186.31 388.30,186.45 388.60,188.24 388.90,184.55 389.20,188.05 389.50,186.27 389.60,183.89 389.80,187.53 390.10,186.97 390.40,190.62 390.70,187.58 391.00,188.98 391.30,189.78 391.60,186.75 391.90,191.18 392.20,189.18 392.50,193.58 392.80,194.46 392.80,191.72 393.10,189.55 393.40,192.87 393.70,193.28 394.00,194.59 394.30,193.34 394.60,192.29 394.90,194.41 395.20,193.53 395.50,198.36 395.50,194.27 395.80,193.46 396.10,193.55 396.40,190.68 396.70,191.06 397.00,190.64 397.30,189.12 397.60,188.55 397.90,190.03 398.20,187.72 398.50,183.82 398.60,184.89 398.80,187.24 399.10,185.67 399.40,187.59 399.70,188.13 400.00,189.78 400.30,189.38 400.60,190.22 400.80,189.56 400.90,191.55 401.20,189.49 401.50,193.94 401.80,191.16 402.10,190.94 402.40,192.72 402.70,191.43 403.00,191.86 403.30,191.79 403.40,190.82 403.60,190.72 403.90,191.36 404.20,194.66 404.50,192.08 404.80,192.76 405.10,192.99 405.40,195.16 405.70,197.54 406.00,193.02 406.30,195.66 406.60,195.14 406.90,194.61 407.20,196.06 407.50,193.26 407.80,196.79 408.10,195.87 408.40,193.95 408.70,198.28 408.70,197.00 409.00,197.54 409.30,193.29 409.60,195.29 409.90,194.96 410.20,196.94 410.50,198.25 410.80,193.03 410.80,196.24 411.10,194.59 411.40,195.01 411.70,191.86 412.00,188.39 412.30,188.67 412.60,185.79 412.90,184.69 413.20,184.50 413.40,182.59 413.50,184.17 413.80,182.39 414.10,189.84 414.40,189.29 414.70,189.60 415.00,187.53 415.30,187.35 415.60,190.71 415.90,193.00 416.10,197.89 416.20,196.66 416.50,194.46 416.80,198.09 417.10,198.92 417.40,197.75 417.70,200.53 418.00,199.89 418.30,199.08 418.60,199.02 418.70,201.03 418.90,202.64 419.20,198.42 419.50,197.63 419.80,200.78 420.10,195.06 420.40,202.10 420.70,198.01 421.00,199.55 421.30,201.01 421.60,195.21 421.90,195.49 422.20,200.49 422.40,196.09 422.50,196.46 422.80,197.39 423.10,199.08 423.40,199.85 423.70,198.18 424.00,197.76 424.30,198.56 424.60,199.43 424.60,201.02 424.90,200.08 425.20,203.84 425.50,200.47 425.80,203.77 426.10,206.80 426.40,207.09 426.70,206.58 427.00,205.65 427.30,206.99 427.60,208.95 427.70,210.07 427.90,209.78 428.20,208.72 428.50,210.78 428.80,213.71 429.10,215.10 429.40,212.30 429.70,214.85 430.00,213.56 430.30,216.24 430.40,223.21 430.60,216.15 430.90,213.47 431.20,211.07 431.50,208.08 431.80,205.05 432.00,206.74 432.10,195.38 432.40,165.24 432.70,127.13 433.00,97.51 433.00,99.02 433.30,119.51 433.60,149.67 433.90,171.83 434.20,201.16 434.20,202.69 434.50,204.54 434.80,209.27 435.10,211.92 435.40,217.79 435.70,223.43 435.70,221.21 436.00,221.70 436.30,223.00 436.60,224.14 436.90,220.57 437.20,223.80 437.50,223.05 437.80,225.48 438.00,226.71 438.10,225.55 438.40,227.18 438.70,223.49 439.00,224.49 439.30,223.60 439.60,225.37 439.90,225.49 440.20,225.06 440.50,223.44 440.80,225.33 441.10,224.77 441.40,226.49 441.70,225.06 442.00,227.40 442.30,225.87 442.60,222.43 442.90,225.15 443.20,223.06 443.50,226.93 443.80,227.64 444.10,225.19 444.40,225.90 444.70,222.74 445.00,221.37 445.30,224.08 445.60,224.53 445.80,222.45 445.90,225.08 446.20,225.44 446.50,226.00 446.80,227.52 447.10,226.37 447.40,224.52 447.70,225.38 448.00,226.29 448.30,223.68 448.60,227.64 448.80,227.01 448.90,224.48 449.20,221.59 449.50,226.60 449.80,219.45 449.80,219.54 450.10,223.23 450.40,224.17 450.70,225.18 450.80,226.66 451.00,224.00 451.30,226.74 451.60,223.15 451.90,226.50 452.20,226.88 452.50,223.60 452.80,229.52 453.10,224.73 453.40,228.58 453.70,226.26 453.80,227.78 454.00,226.31 454.30,231.60 454.60,229.30 454.90,230.65 455.20,229.02 455.50,228.89 455.80,227.98 456.10,227.30 456.40,228.62 456.70,227.82 457.00,227.23 457.30,225.14 457.60,226.83 457.90,228.27 458.20,226.47 458.50,227.79 458.80,226.98 459.10,225.53 459.40,225.76 459.70,226.05 460.00,226.82 460.30,226.90 460.60,229.19 460.90,225.61 461.20,224.07 461.50,228.57 461.80,226.74 462.10,227.33 462.40,231.76 462.70,230.06 463.00,228.71 463.30,229.39 463.60,228.15 463.90,229.65 464.20,227.21 464.50,227.16 464.80,227.69 465.10,231.16 465.40,231.22 465.70,227.76 466.00,230.73 466.30,228.62 466.60,230.69 466.90,228.45 467.20,230.58 467.50,228.87 467.80,228.63 468.10,229.11 468.40,229.46 468.70,228.29 469.00,227.04 469.30,232.10 469.60,228.69 469.70,226.33 469.90,225.57 470.20,224.69 470.50,228.29 470.80,231.53 471.10,226.63 471.40,228.82 471.70,226.37 472.00,231.25 472.30,230.10 472.60,230.10 472.90,231.86 473.20,232.42 473.50,231.47 473.80,228.89 474.10,227.72 474.40,228.22 474.70,227.10 475.00,232.99 475.30,229.74 475.60,230.31 475.90,230.47 476.20,233.52 476.50,229.34 476.80,232.29 477.10,230.94 477.40,230.29 477.70,227.51 478.00,232.30 478.30,229.68 478.60,230.27 478.90,231.51 479.20,231.38 479.50,233.15 479.80,230.24 480.10,231.63 480.40,231.80 480.70,231.35 481.00,232.38 481.30,230.78 481.60,233.12 481.90,229.91 482.20,228.65 482.50,230.90 482.80,232.86 483.10,230.03 483.40,229.80 483.70,230.21 484.00,231.00 484.30,230.38 484.60,231.10 484.90,227.68 485.20,232.90 485.50,231.32 485.80,228.87 486.10,232.50 486.40,230.95 486.70,232.64 487.00,228.31 487.30,233.06 487.60,230.51 487.90,227.19 488.20,232.00 488.50,230.45 488.80,229.49 489.10,231.02 489.40,228.38 489.70,232.74 490.00,231.60 490.00,231.63 490.30,234.35 490.60,232.01 490.90,230.78 491.20,230.19 491.50,231.54 491.80,233.25 492.10,230.39 492.40,229.48 492.70,232.55 493.00,230.96 493.30,230.65 493.60,233.96 493.90,228.35 494.20,230.52 494.50,227.11 494.80,229.40 495.10,230.73 495.40,231.48 495.70,227.42 496.00,230.77 496.30,230.56 496.50,228.99 496.60,233.34 496.90,229.53 497.20,228.31 497.50,230.67 497.80,227.10 498.10,232.93 498.40,232.18 498.70,230.09 499.00,231.97 499.30,232.07 499.50,234.54 499.60,230.57 499.90,230.10 500.20,229.55 500.50,233.11 500.80,231.73 501.10,234.76 501.40,236.46 501.70,235.78 502.00,235.66 502.30,239.87 502.60,238.24 502.90,239.58 503.20,241.37 503.50,238.23 503.80,239.41 504.10,245.57 504.40,241.72 504.70,240.77 505.00,242.57 505.30,242.54 505.60,241.96 505.90,243.81 506.20,244.94 506.30,245.06 506.50,242.55 506.80,233.72 507.10,229.03 507.20,231.04 507.40,225.47 507.70,222.94 508.00,216.17 508.30,208.08 508.30,211.21 508.60,216.99 508.90,227.42 509.20,237.35 509.50,247.15 509.80,251.92 509.80,253.14 510.10,243.84 510.40,236.02 510.60,224.77 510.70,224.05 511.00,212.34 511.30,199.82 511.40,193.58 511.60,203.87 511.90,215.84 512.20,225.67 512.30,229.10 512.50,231.95 512.80,237.32 513.10,242.70 513.40,247.54 513.70,250.24 513.80,251.37 514.00,251.51 514.30,253.14 514.60,252.40 514.90,252.41 515.20,252.51 515.50,252.33 515.80,251.78 516.10,250.83 516.40,251.12 516.70,251.71 517.00,251.86 517.30,251.06 517.60,250.92 517.90,252.48 518.20,250.70 518.50,251.25 518.80,250.66 519.10,250.08 519.40,249.40 519.70,250.22 520.00,249.88 520.30,251.33 520.60,249.41 520.90,250.00 521.20,250.89 521.50,250.08 521.80,250.53 522.10,250.74 522.40,248.34 522.70,249.40 523.00,248.81 523.30,250.85 523.60,249.44 523.90,249.95 524.20,251.01 524.50,249.09 524.80,249.46 525.00,249.78 525.10,249.17 525.40,250.52 525.70,250.07 526.00,250.20 526.30,249.28 526.60,248.89 526.90,248.85 527.20,248.81 527.50,247.60 527.80,249.40 528.10,249.77 528.40,248.96 528.70,248.46 529.00,248.88 529.30,248.99 529.60,249.03 529.90,250.32 530.00,247.91 530.20,249.05 530.50,249.35 530.80,248.80 531.10,248.51 531.40,247.77 531.70,248.14 532.00,249.29 532.30,249.90 532.60,247.88 532.90,248.81 533.20,248.72 533.50,249.03 533.80,248.18 534.10,248.21 534.40,248.48 534.70,246.46 535.00,247.44 535.30,245.67 535.60,245.39 535.90,246.35 536.20,245.62 536.50,247.42 536.80,247.80 537.10,246.55 537.40,246.64 537.70,246.49 538.00,246.39 538.30,246.68 538.60,246.79 538.90,245.98 539.20,245.60 539.50,245.77 539.80,246.90 539.90,245.76 540.10,247.63 540.40,246.36 540.70,248.09 541.00,246.02 541.30,246.74 541.60,248.06 541.90,248.32 542.20,247.98 542.50,250.23 542.80,248.69 543.10,249.16 543.40,248.65 543.70,250.96 544.00,250.53 544.30,250.45 544.60,248.91 544.90,251.07 545.20,250.65 545.50,251.76 545.80,252.56 546.10,251.37 546.40,252.55 546.70,253.44 546.80,252.89 547.00,251.33 547.30,249.00 547.60,247.67 547.90,245.44 548.20,245.79 548.50,243.29 548.80,240.39 549.00,240.32 549.10,236.35 549.40,226.24 549.70,222.00 550.00,213.64 550.30,202.92 550.60,195.27 550.80,190.50 550.90,192.76 551.20,200.93 551.50,209.86 551.80,218.74 552.10,227.11 552.40,236.46 552.50,238.95 552.70,241.25 553.00,246.13 553.30,248.79 553.60,255.77 553.80,255.68 553.90,257.12 554.20,257.33 554.50,257.23 554.80,256.92 555.10,257.67 555.40,255.36 555.70,256.18 556.00,256.24 556.30,255.54 556.60,255.35 556.90,256.94 557.20,255.05 557.50,255.18 557.60,255.40 557.80,253.37 558.10,250.54 558.40,247.03 558.70,244.38 558.70,244.26 559.00,247.93 559.30,252.08 559.60,253.42 559.80,257.90 559.90,256.27 560.20,257.98 560.50,258.21 560.70,258.23 560.80,256.67 561.10,259.81 561.40,257.58 561.70,257.45 562.00,259.00 562.30,258.01 562.60,259.53 562.90,259.23 563.20,258.25 563.50,257.75 563.80,258.12 564.10,256.19 564.40,257.46 564.70,257.40 565.00,256.81 565.30,257.44 565.60,255.88 565.90,257.98 566.20,258.32 566.50,256.00 566.80,257.29 567.10,258.54 567.40,257.53 567.70,256.24 568.00,256.28 568.30,257.94 568.60,258.84 568.90,256.24 569.20,257.26 569.50,256.54 569.80,256.99 570.10,257.52 570.40,257.21 570.70,256.63 571.00,259.12 571.30,257.09 571.60,257.07 571.90,258.23 572.20,257.25 572.50,257.07 572.80,258.09 573.10,256.31 573.40,257.88 573.70,258.10 574.00,257.71 574.30,256.89 574.60,256.96 574.90,255.34 575.20,256.66 575.50,256.94 575.80,257.38 576.10,256.66 576.40,256.13 576.70,255.70 577.00,256.40 577.30,256.57 577.60,257.55 577.90,256.52 578.20,256.12 578.50,256.53 578.80,256.26 579.10,256.55 579.40,254.86 579.70,255.47 580.00,255.89 580.30,257.43 580.60,257.01 580.90,257.28 581.20,258.26 581.50,256.37 581.80,258.40 582.10,257.81 582.40,256.92 582.50,258.97 582.70,256.63 583.00,257.22 583.30,258.35 583.60,259.18 583.90,258.92 584.20,257.43 584.50,259.30 584.80,259.69 585.10,262.22 585.40,261.36 585.70,260.42 586.00,259.51 586.30,260.95 586.60,259.79 586.90,261.19 587.20,261.52 587.50,261.05 587.80,261.84 588.10,261.57 588.40,261.61 588.50,263.59 588.70,262.29 589.00,260.80 589.30,259.71 589.60,259.88 589.90,259.56 590.20,259.13 590.50,258.99 590.80,257.38 591.10,255.24 591.30,257.53 591.40,255.25 591.70,250.47 592.00,246.41 592.30,239.37 592.50,237.30 592.60,238.66 592.90,244.89 593.20,247.50 593.50,252.99 593.60,256.15 593.80,257.34 594.10,259.41 594.40,264.43 594.40,261.57 594.70,263.18 595.00,262.62 595.30,263.32 595.60,262.68 595.90,262.23 596.20,263.22 596.50,261.91 596.80,263.61 597.10,262.91 597.40,264.07 597.70,262.92 598.00,262.79 598.30,263.83 598.60,264.65 598.90,261.81 599.20,263.86 599.50,264.40 599.80,262.68 600.10,263.24 600.40,264.66 600.70,263.41 601.00,263.62 601.30,265.73 601.60,263.37 601.90,263.42 602.20,262.11 602.50,263.16 602.80,263.01 603.10,265.59 603.40,265.13 603.70,262.92 604.00,265.79 604.30,264.74 604.40,263.90 604.60,264.77 604.90,264.38 605.20,263.34 605.50,262.43 605.80,263.14 606.10,263.88 606.40,263.49 606.70,263.06 607.00,264.47 607.30,262.54 607.60,264.16 607.90,262.81 608.20,263.22 608.50,262.04 608.80,262.94 609.10,262.20 609.40,261.33 609.70,262.87 610.00,262.88 610.30,263.74 610.60,263.36 610.90,262.35 611.20,262.85 611.50,261.36 611.80,262.75 612.10,265.08 612.40,265.45 612.70,264.94 613.00,264.67 613.30,265.05 613.60,265.07 613.90,263.18 614.20,264.01 614.50,265.89 614.80,265.92 615.10,265.10 615.40,264.62 615.70,264.54 616.00,264.38 616.30,264.00 616.60,263.06 616.90,264.83 617.20,264.21 617.50,264.32 617.80,265.91 618.10,264.78 618.40,263.49 618.70,264.47 619.00,262.46 619.30,264.58 619.60,263.73 619.80,263.18 619.90,263.74 620.20,264.40 620.50,262.58 620.80,262.03 621.10,264.73 621.40,262.83 621.70,264.14 622.00,262.22 622.30,263.18 622.60,262.30 622.90,263.45 623.20,262.67 623.50,262.33 623.80,264.31 624.10,263.21 624.40,261.08 624.70,262.64 625.00,261.99 625.30,261.67 625.60,262.18 625.90,262.22 626.20,262.62 626.50,261.83 626.80,260.83 627.10,261.96 627.40,263.18 627.70,261.13 628.00,262.85 628.30,262.66 628.60,261.80 628.90,262.43 629.20,261.42 629.50,261.68 629.80,261.07 630.10,262.33 630.40,263.08 630.70,261.19 631.00,262.80 631.30,259.78 631.60,260.85 631.90,260.70 632.20,263.12 632.50,261.04 632.70,262.27 632.80,259.89 633.10,262.22 633.40,263.01 633.70,262.85 634.00,260.82 634.30,263.77 634.60,264.68 634.90,265.47 635.20,264.96 635.50,263.39 635.70,264.89 635.80,265.84 636.10,264.28 636.40,265.50 636.70,264.54 637.00,265.03 637.30,265.62 637.60,264.29 637.90,267.49 638.20,265.07 638.50,265.27 638.80,264.34 639.10,265.14 639.40,264.95 639.70,264.02 640.00,264.13 640.30,265.97 640.60,265.88 640.90,263.86 641.20,264.59 641.50,266.52 641.80,267.03 642.10,267.90 642.40,266.48 642.70,268.32 643.00,267.66 643.30,267.59 643.60,267.98 643.90,269.01 644.20,268.61 644.50,268.88 644.80,267.41 645.10,267.74 645.40,266.92 645.70,267.46 646.00,267.60 646.30,267.57 646.60,268.67 646.90,268.47 647.20,268.84 647.50,268.35 647.80,269.28 648.10,268.51 648.40,269.37 648.70,269.06 649.00,269.38 649.30,268.77 649.60,267.84 649.90,267.77 650.20,270.96 650.50,269.66 650.80,269.81 651.10,269.35 651.40,269.15 651.70,272.20 652.00,268.65 652.30,269.64 652.60,269.68 652.60,268.68 652.90,267.65 653.20,267.26 653.50,266.70 653.80,265.68 654.10,265.97 654.40,263.29 654.60,264.11 654.70,265.61 655.00,266.76 655.30,266.58 655.60,266.57 655.90,271.60 656.20,272.89 656.50,273.52 656.50,275.08 656.80,273.67 657.10,274.26 657.40,273.37 657.70,274.75 658.00,274.26 658.30,274.40 658.60,276.04 658.90,275.50 659.20,274.20 659.50,276.42 659.80,276.81 660.10,275.57 660.40,276.22 660.70,276.88 661.00,276.87 661.30,277.46 661.60,278.19 661.90,277.41 662.20,279.97 662.50,277.69 662.80,278.06 663.10,280.53 663.40,281.10 663.50,279.04 663.70,278.86 664.00,278.10 664.30,280.13 664.60,279.30 664.90,278.45 665.20,279.64 665.50,280.59 665.80,280.07 666.10,281.56 666.40,280.74 666.70,280.23 667.00,279.96 667.30,280.64 667.60,281.39 667.90,281.22 668.20,281.55 668.50,280.95 668.80,281.59 669.10,282.13 669.40,281.02 669.70,280.14 670.00,282.99 670.30,282.08 670.60,281.27 670.90,281.97 671.20,281.61 671.40,280.31 671.50,281.53 671.80,280.07 672.10,281.16 672.40,280.47 672.70,281.16 673.00,279.58 673.30,279.57 673.60,278.51 673.90,278.00 674.20,276.66 674.50,278.42 674.80,277.33 675.00,276.41 675.10,277.31 675.40,277.39 675.70,277.80 676.00,279.39 676.30,281.00 676.60,280.42 676.90,280.15 677.20,281.65 677.40,284.37 677.50,282.11 677.80,283.94 678.10,282.66 678.40,283.52 678.70,282.70 679.00,281.31 679.30,282.27 679.60,284.45 679.90,282.33 680.20,282.87 680.50,281.98 680.80,282.10 681.10,282.46 681.40,282.57 681.70,284.13 682.00,282.12 682.30,281.99 682.30,281.62 682.60,279.90 682.90,278.49 683.20,279.37 683.50,275.92 683.80,277.65 683.80,277.13 684.10,274.38 684.40,271.88 684.70,271.20 684.70,271.13 685.00,274.14 685.30,274.49 685.60,276.86 685.90,279.23 686.00,279.74 686.20,280.85 686.50,281.99 686.80,284.21 687.10,287.24 687.30,289.13 687.40,290.38 687.70,291.75 688.00,291.39 688.30,290.38 688.60,291.87 688.90,290.22 689.20,289.98 689.50,292.64 689.80,289.69 690.10,290.35 690.40,290.55 690.70,292.15 691.00,290.33 691.30,291.59 691.60,290.54 691.90,289.81 692.20,291.13 692.30,291.01"/>
<rect x="43.0" y="2.4" width="649.0" height="323.90000000000003" fill="none" stroke="#1a1a1a" stroke-width="1.6"/>
<line x1="66.05" y1="326.3" x2="66.05" y2="329.3" stroke="#000" stroke-width="1.3"/>
<line x1="113.80" y1="326.3" x2="113.80" y2="332.3" stroke="#000" stroke-width="1.3"/>
<text x="113.80" y="348.2" font-size="14" text-anchor="middle">1200</text>
<line x1="161.55" y1="326.3" x2="161.55" y2="329.3" stroke="#000" stroke-width="1.3"/>
<line x1="209.30" y1="326.3" x2="209.30" y2="332.3" stroke="#000" stroke-width="1.3"/>
<text x="209.30" y="348.2" font-size="14" text-anchor="middle">1000</text>
<line x1="257.05" y1="326.3" x2="257.05" y2="329.3" stroke="#000" stroke-width="1.3"/>
<line x1="304.80" y1="326.3" x2="304.80" y2="332.3" stroke="#000" stroke-width="1.3"/>
<text x="304.80" y="348.2" font-size="14" text-anchor="middle">800</text>
<line x1="352.55" y1="326.3" x2="352.55" y2="329.3" stroke="#000" stroke-width="1.3"/>
<line x1="400.30" y1="326.3" x2="400.30" y2="332.3" stroke="#000" stroke-width="1.3"/>
<text x="400.30" y="348.2" font-size="14" text-anchor="middle">600</text>
<line x1="448.05" y1="326.3" x2="448.05" y2="329.3" stroke="#000" stroke-width="1.3"/>
<line x1="495.80" y1="326.3" x2="495.80" y2="332.3" stroke="#000" stroke-width="1.3"/>
<text x="495.80" y="348.2" font-size="14" text-anchor="middle">400</text>
<line x1="543.55" y1="326.3" x2="543.55" y2="329.3" stroke="#000" stroke-width="1.3"/>
<line x1="591.30" y1="326.3" x2="591.30" y2="332.3" stroke="#000" stroke-width="1.3"/>
<text x="591.30" y="348.2" font-size="14" text-anchor="middle">200</text>
<line x1="639.05" y1="326.3" x2="639.05" y2="329.3" stroke="#000" stroke-width="1.3"/>
<line x1="686.80" y1="326.3" x2="686.80" y2="332.3" stroke="#000" stroke-width="1.3"/>
<text x="686.80" y="348.2" font-size="14" text-anchor="middle">0</text>
<text x="367.5" y="370.7" font-size="13.7" text-anchor="middle">Binding Energy (eV)</text>
<text transform="translate(29.4,164.1) rotate(-90)" font-size="13.85" text-anchor="middle">Normalised Intensity (a.u.)</text>
<text x="46.6" y="18.6" font-size="13.5">(a) Survey</text>
<line x1="47.2" y1="31.5" x2="74.7" y2="31.5" stroke="#DA6218" stroke-width="1.0"/>
<text x="78.6" y="35.8" font-size="12.2" fill="#DA6218">thermally sintered</text>
<line x1="47.2" y1="46.5" x2="74.7" y2="46.5" stroke="#1C74BC" stroke-width="1.0"/>
<text x="78.6" y="50.8" font-size="12.2" fill="#1C74BC">chemically sintered</text>
<line x1="47.2" y1="61.5" x2="74.7" y2="61.5" stroke="#000" stroke-width="1.0"/>
<text x="78.6" y="65.8" font-size="12.2" fill="#000">chlorinated</text>
<polyline fill="none" stroke="#DA6218" stroke-width="1.15" stroke-linejoin="round"  points="28.60,676.21 29.51,676.24 30.42,676.19 31.33,676.55 32.24,676.25 33.15,676.45 34.06,676.36 34.97,676.37 35.88,676.57 36.79,676.60 37.70,676.49 38.61,676.65 39.52,676.70 40.43,676.60 41.34,676.58 42.25,676.72 43.16,676.93 44.07,677.04 44.98,676.83 45.89,676.73 46.80,676.79 47.71,677.26 48.62,677.02 49.53,676.58 50.44,676.78 51.35,676.64 52.26,676.64 53.17,676.28 54.08,676.62 54.99,676.22 55.90,676.32 56.81,676.73 57.72,676.51 58.63,675.97 59.54,675.82 60.45,675.73 61.36,675.38 62.27,675.47 63.18,675.51 64.09,675.20 65.00,675.50 65.91,675.18 66.82,674.93 67.73,675.35 68.64,674.97 69.55,674.70 70.46,675.00 71.37,674.76 72.28,674.17 73.19,674.31 74.10,674.03 75.01,673.70 75.92,674.42 76.83,674.25 77.74,673.53 78.65,673.90 79.56,673.35 80.47,673.97 81.38,673.69 82.29,673.64 83.20,674.04 84.11,673.78 85.02,673.78 85.93,674.14 86.84,673.94 87.75,674.32 88.66,674.22 89.57,674.53 90.48,674.60 91.39,674.75 92.30,674.43 93.21,675.22 94.12,674.82 95.03,675.36 95.94,674.87 96.85,675.00 97.76,675.03 98.67,675.38 99.58,674.99 100.49,675.15 101.40,674.62 102.31,674.80 103.22,674.87 104.13,674.68 105.04,674.14 105.95,674.57 106.86,674.07 107.77,674.62 108.68,673.95 109.59,674.37 110.50,673.83 111.41,673.60 112.32,673.16 113.23,673.01 114.14,672.88 115.05,672.01 115.96,672.40 116.87,671.53 117.78,671.38 118.69,670.38 119.60,670.71 120.51,670.29 121.42,669.56 122.33,668.82 123.24,667.76 124.15,666.74 125.06,665.60 125.97,663.60 126.88,662.07 127.79,660.21 128.70,657.78 129.61,655.20 130.52,651.71 131.43,646.68 132.34,641.63 133.25,634.65 134.16,628.09 135.07,619.90 135.98,610.01 136.89,599.17 137.80,585.54 138.71,572.54 139.62,559.82 140.53,550.31 141.44,542.04 142.35,537.35 143.26,533.73 144.17,531.33 145.08,531.22 145.99,532.86 146.90,536.63 147.81,540.49 148.72,547.55 149.63,557.00 150.54,569.53 151.45,581.06 152.36,592.20 153.27,603.26 154.18,613.84 155.09,623.57 156.00,632.75 156.91,638.39 157.82,643.75 158.73,647.52 159.64,650.85 160.55,653.87 161.46,656.79 162.37,659.73 163.28,662.22 164.19,664.66 165.10,666.91 166.01,669.25 166.92,670.88 167.83,672.93 168.74,673.71 169.65,675.47 170.56,676.07 171.47,676.73 172.38,676.82 173.29,676.90 174.20,677.38 175.11,678.18 176.02,678.09 176.93,678.30 177.84,678.46 178.75,678.77 179.66,678.89 180.57,678.72 181.48,679.10 182.39,679.64 183.30,679.88 184.21,679.63 185.12,679.65 186.03,680.21 186.94,679.92 187.85,679.75 188.76,680.05 189.67,680.27 190.58,680.48 191.49,679.98 192.40,680.23 193.31,680.02 194.22,680.37 195.13,680.15 196.04,680.15 196.95,679.83 197.86,679.99 198.77,679.98 199.68,679.17 200.59,680.24 201.50,680.02 202.41,679.95 203.32,679.90 204.23,679.98 205.14,680.01 206.05,679.61 206.96,679.94 207.87,679.91 208.78,679.87 209.69,679.47 210.60,679.77 211.51,679.46 212.42,679.83 213.33,680.03 214.24,679.88 215.15,679.55 216.06,679.46 216.97,679.42 217.88,679.60 218.79,679.30 219.70,679.29 220.61,678.73 221.52,678.91 222.43,678.56 223.34,678.14 224.25,677.97 225.16,676.65 226.07,675.86 226.98,675.46 227.89,674.13 228.80,673.33 229.71,672.32 230.62,670.80 231.53,668.72 232.44,666.88 233.35,664.45 234.26,661.00 235.17,658.12 236.08,655.17 236.99,651.08 237.90,646.38 238.81,641.36 239.72,635.94 240.63,629.23 241.54,622.19 242.45,613.63 243.36,603.73 244.27,593.22 245.18,580.22 246.09,565.96 247.00,551.49 247.91,537.50 248.82,525.16 249.73,512.59 250.64,501.65 251.55,491.12 252.46,481.27 253.37,472.91 254.28,468.68 255.19,471.09 256.10,476.57 257.01,485.22 257.92,495.57 258.83,506.61 259.74,522.61 260.65,538.55 261.56,553.21 262.47,567.89 263.38,581.52 264.29,594.17 265.20,604.70 266.11,613.67 267.02,622.24 267.93,628.97 268.84,634.76 269.75,640.27 270.66,645.09 271.57,649.06 272.48,652.36 273.39,656.45 274.30,659.71 275.21,662.84 276.12,665.90 277.03,668.40 277.94,671.27 278.85,673.11 279.76,675.13 280.67,677.30 281.58,679.17 282.49,681.00 283.40,682.45 284.31,683.69 285.22,684.96 286.13,685.41 287.04,686.43 287.95,687.80 288.86,688.10 289.77,689.06 290.68,689.35 291.59,688.88 292.50,689.52 293.41,690.39 294.32,689.74 295.23,690.25 296.14,690.32 297.05,690.52 297.96,690.71 298.87,690.97 299.78,691.34 300.69,691.13 301.60,691.61 302.51,691.47 303.42,691.92 304.33,692.01 305.24,691.88 306.15,692.23 307.06,692.14 307.97,692.23 308.88,692.83 309.79,692.21 310.70,692.88 311.61,693.01 312.52,692.78 313.43,693.27 314.34,693.31 315.25,692.85 316.16,693.36 317.07,693.42 317.98,693.19 318.89,693.57 319.80,693.67 320.71,693.37 321.62,693.12 322.53,693.76 323.44,693.54 324.35,693.36 325.26,693.74 326.17,693.30 327.08,693.85 327.99,694.35 328.90,693.35 329.81,694.20 330.72,693.91 331.63,694.08 332.54,694.01 333.45,694.43 334.36,694.31 335.27,694.17 336.18,694.08 337.09,694.34 338.00,694.76 338.91,694.22 339.82,694.65 340.73,694.66 341.64,694.12 342.55,694.90 343.46,694.65 344.37,695.23 345.28,695.13 346.19,694.67 347.10,694.71 348.01,694.52 348.92,694.44 349.83,694.98 350.74,694.73 351.65,694.70 352.56,694.76"/>
<polyline fill="none" stroke="#1C74BC" stroke-width="1.15" stroke-linejoin="round"  points="28.60,679.87 29.51,679.97 30.42,679.77 31.33,679.75 32.24,679.84 33.15,680.34 34.06,679.35 34.97,679.58 35.88,679.99 36.79,679.92 37.70,680.19 38.61,680.22 39.52,680.38 40.43,679.71 41.34,680.05 42.25,679.85 43.16,680.14 44.07,679.93 44.98,680.07 45.89,679.64 46.80,679.82 47.71,679.61 48.62,679.61 49.53,679.50 50.44,679.30 51.35,679.75 52.26,679.48 53.17,679.60 54.08,679.01 54.99,678.69 55.90,678.93 56.81,678.97 57.72,679.12 58.63,679.10 59.54,679.06 60.45,679.07 61.36,678.79 62.27,678.57 63.18,678.29 64.09,678.59 65.00,678.25 65.91,678.12 66.82,678.42 67.73,678.30 68.64,678.43 69.55,678.04 70.46,678.49 71.37,678.30 72.28,678.18 73.19,678.06 74.10,678.01 75.01,677.97 75.92,678.68 76.83,678.03 77.74,678.58 78.65,678.41 79.56,678.38 80.47,678.46 81.38,678.60 82.29,678.90 83.20,678.87 84.11,678.78 85.02,678.49 85.93,678.43 86.84,679.36 87.75,678.69 88.66,678.58 89.57,679.26 90.48,678.63 91.39,679.19 92.30,679.21 93.21,678.96 94.12,679.01 95.03,678.26 95.94,678.11 96.85,678.16 97.76,678.00 98.67,677.80 99.58,677.78 100.49,677.37 101.40,676.94 102.31,677.49 103.22,677.26 104.13,677.46 105.04,677.69 105.95,677.11 106.86,677.12 107.77,676.61 108.68,676.79 109.59,676.16 110.50,675.46 111.41,674.81 112.32,673.42 113.23,672.85 114.14,671.61 115.05,670.41 115.96,667.87 116.87,666.35 117.78,664.74 118.69,661.39 119.60,658.05 120.51,654.66 121.42,649.66 122.33,642.62 123.24,636.20 124.15,630.25 125.06,621.79 125.97,611.56 126.88,601.23 127.79,590.30 128.70,579.60 129.61,570.95 130.52,563.16 131.43,556.75 132.34,552.99 133.25,549.25 134.16,547.07 135.07,547.60 135.98,549.93 136.89,553.04 137.80,556.46 138.71,561.18 139.62,566.94 140.53,573.02 141.44,579.98 142.35,587.48 143.26,596.80 144.17,607.83 145.08,625.84 145.99,638.08 146.90,643.89 147.81,647.99 148.72,651.60 149.63,654.51 150.54,657.84 151.45,660.56 152.36,662.78 153.27,665.25 154.18,667.01 155.09,668.96 156.00,670.35 156.91,672.14 157.82,673.84 158.73,674.79 159.64,676.07 160.55,676.68 161.46,677.52 162.37,677.85 163.28,678.95 164.19,679.33 165.10,680.21 166.01,680.20 166.92,680.94 167.83,681.56 168.74,681.93 169.65,681.64 170.56,682.08 171.47,682.93 172.38,682.61 173.29,682.56 174.20,681.93 175.11,682.46 176.02,682.89 176.93,682.87 177.84,682.97 178.75,683.12 179.66,682.93 180.57,683.11 181.48,682.46 182.39,683.51 183.30,682.82 184.21,682.73 185.12,683.24 186.03,683.01 186.94,683.09 187.85,682.69 188.76,682.89 189.67,682.98 190.58,682.51 191.49,682.71 192.40,682.68 193.31,682.65 194.22,682.52 195.13,682.36 196.04,682.75 196.95,682.67 197.86,682.86 198.77,682.53 199.68,682.35 200.59,682.12 201.50,682.44 202.41,682.27 203.32,682.74 204.23,682.69 205.14,682.38 206.05,681.61 206.96,681.31 207.87,681.39 208.78,680.99 209.69,681.30 210.60,680.70 211.51,680.27 212.42,680.03 213.33,679.98 214.24,679.05 215.15,678.98 216.06,678.08 216.97,677.88 217.88,677.26 218.79,676.95 219.70,676.34 220.61,675.82 221.52,674.24 222.43,671.89 223.34,669.25 224.25,666.63 225.16,663.84 226.07,660.83 226.98,657.12 227.89,653.35 228.80,648.33 229.71,641.98 230.62,633.54 231.53,623.44 232.44,612.43 233.35,600.98 234.26,587.33 235.17,573.48 236.08,559.51 236.99,548.27 237.90,538.46 238.81,529.01 239.72,521.09 240.63,512.61 241.54,503.69 242.45,496.62 243.36,491.66 244.27,491.58 245.18,495.79 246.09,503.32 247.00,511.88 247.91,520.62 248.82,530.13 249.73,541.42 250.64,551.86 251.55,561.64 252.46,572.32 253.37,581.88 254.28,591.08 255.19,600.29 256.10,609.67 257.01,619.25 257.92,628.78 258.83,637.01 259.74,643.74 260.65,649.06 261.56,653.67 262.47,657.08 263.38,661.06 264.29,663.87 265.20,666.50 266.11,669.08 267.02,671.21 267.93,673.60 268.84,675.49 269.75,676.98 270.66,678.49 271.57,680.54 272.48,681.89 273.39,682.75 274.30,683.79 275.21,685.21 276.12,686.39 277.03,686.89 277.94,688.36 278.85,688.67 279.76,689.64 280.67,689.77 281.58,690.32 282.49,690.57 283.40,691.04 284.31,691.61 285.22,691.43 286.13,691.84 287.04,692.28 287.95,692.22 288.86,692.98 289.77,692.22 290.68,693.28 291.59,692.56 292.50,693.03 293.41,693.25 294.32,693.05 295.23,692.63 296.14,692.96 297.05,693.12 297.96,693.31 298.87,693.47 299.78,693.56 300.69,693.70 301.60,693.16 302.51,693.69 303.42,693.07 304.33,693.59 305.24,693.33 306.15,693.21 307.06,693.92 307.97,693.74 308.88,694.03 309.79,693.44 310.70,693.57 311.61,693.89 312.52,693.79 313.43,694.02 314.34,693.88 315.25,693.99 316.16,693.83 317.07,694.47 317.98,694.10 318.89,693.92 319.80,694.42 320.71,694.40 321.62,694.36 322.53,694.40 323.44,694.27 324.35,694.36 325.26,693.87 326.17,694.06 327.08,694.17 327.99,694.57 328.90,694.82 329.81,694.50 330.72,694.49 331.63,694.86 332.54,694.51 333.45,694.78 334.36,694.74 335.27,694.32 336.18,694.74 337.09,694.73 338.00,694.41 338.91,694.45 339.82,694.40 340.73,695.07 341.64,695.26 342.55,694.92 343.46,695.15 344.37,694.43 345.28,695.12 346.19,695.27 347.10,695.19 348.01,694.55 348.92,695.06 349.83,694.77 350.74,695.07 351.65,694.64 352.56,694.80"/>
<polyline fill="none" stroke="#000000" stroke-width="1.1" stroke-linejoin="round"  points="28.60,686.69 30.42,687.63 32.24,687.11 34.06,688.19 35.88,687.92 37.70,687.54 39.52,687.13 41.34,686.88 43.16,687.14 44.98,687.79 46.80,687.22 48.62,687.34 50.44,687.03 52.26,686.98 54.08,686.43 55.90,685.32 57.72,687.50 59.54,687.45 61.36,686.04 63.18,688.58 65.00,685.77 66.82,687.66 68.64,686.94 70.46,686.94 72.28,687.63 74.10,687.39 75.92,686.54 77.74,685.53 79.56,685.35 81.38,686.59 83.20,687.82 85.02,687.19 86.84,686.42 88.66,686.82 90.48,687.25 92.30,688.30 94.12,686.20 95.94,687.64 97.76,687.31 99.58,686.42 101.40,685.77 103.22,686.59 105.04,684.78 106.86,684.78 108.68,686.32 110.50,687.04 112.32,685.63 114.14,685.91 115.96,682.69 117.78,680.23 119.60,678.40 121.42,672.72 123.24,664.29 125.06,656.86 126.88,648.04 128.70,637.20 130.52,627.54 132.34,619.00 134.16,611.98 135.98,609.40 137.80,610.95 139.62,616.67 141.44,624.52 143.26,633.03 145.08,639.61 146.90,645.79 148.72,652.28 150.54,659.14 152.36,663.91 154.18,668.96 156.00,672.08 157.82,676.83 159.64,680.73 161.46,682.66 163.28,685.79 165.10,686.95 166.92,686.52 168.74,688.21 170.56,688.63 172.38,688.56 174.20,687.67 176.02,690.59 177.84,690.74 179.66,689.08 181.48,691.35 183.30,689.64 185.12,688.89 186.94,689.22 188.76,687.92 190.58,689.26 192.40,688.13 194.22,690.57 196.04,689.83 197.86,688.28 199.68,690.02 201.50,687.93 203.32,689.55 205.14,689.73 206.96,689.21 208.78,687.95 210.60,688.62 212.42,688.27 214.24,688.15 216.06,689.05 217.88,688.80 219.70,688.21 221.52,685.23 223.34,683.02 225.16,680.76 226.98,677.65 228.80,671.55 230.62,667.70 232.44,663.13 234.26,651.43 236.08,638.63 237.90,619.32 239.72,601.05 241.54,590.59 243.36,581.74 245.18,575.74 247.00,581.67 248.82,589.09 250.64,599.07 252.46,610.36 254.28,620.18 256.10,626.88 257.92,635.81 259.74,646.75 261.56,659.03 263.38,667.91 265.20,676.59 267.02,681.62 268.84,683.02 270.66,686.31 272.48,684.40 274.30,688.17 276.12,690.64 277.94,691.72 279.76,690.54 281.58,690.71 283.40,692.15 285.22,691.00 287.04,692.01 288.86,691.01 290.68,692.72 292.50,692.77 294.32,694.34 296.14,693.31 297.96,692.50 299.78,693.12 301.60,692.14 303.42,693.44 305.24,693.31 307.06,693.97 308.88,694.53 310.70,691.97 312.52,694.15 314.34,694.60 316.16,692.93 317.98,695.80 319.80,693.51 321.62,696.44 323.44,694.99 325.26,695.22 327.08,694.64 328.90,695.36 330.72,693.57 332.54,693.82 334.36,692.82 336.18,695.12 338.00,694.02 339.82,695.37 341.64,695.26 343.46,693.53 345.28,695.40 347.10,695.01 348.92,694.97 350.74,695.21 352.56,694.78"/>
<line x1="145.0" y1="502.5" x2="145.0" y2="705.9" stroke="#000" stroke-width="1.3" stroke-dasharray="1.2,1.4"/>
<line x1="254.2" y1="442.8" x2="254.2" y2="705.9" stroke="#000" stroke-width="1.3" stroke-dasharray="1.2,1.4"/>
<text transform="translate(150.8,499.0) rotate(-90)" font-size="14" fill="#555555">Ag 3<tspan font-style="italic">d</tspan><tspan font-size="9.6" dy="2.4">3/2</tspan></text>
<text transform="translate(259.6,439.0) rotate(-90)" font-size="14" fill="#555555">Ag 3<tspan font-style="italic">d</tspan><tspan font-size="9.6" dy="2.4">5/2</tspan></text>
<rect x="28.6" y="381.8" width="324.59999999999997" height="324.09999999999997" fill="none" stroke="#1a1a1a" stroke-width="1.6"/>
<line x1="44.90" y1="705.9" x2="44.90" y2="708.9" stroke="#000" stroke-width="1.3"/>
<line x1="63.10" y1="705.9" x2="63.10" y2="711.9" stroke="#000" stroke-width="1.3"/>
<text x="63.10" y="727.4" font-size="14" text-anchor="middle">378</text>
<line x1="81.30" y1="705.9" x2="81.30" y2="708.9" stroke="#000" stroke-width="1.3"/>
<line x1="99.50" y1="705.9" x2="99.50" y2="711.9" stroke="#000" stroke-width="1.3"/>
<text x="99.50" y="727.4" font-size="14" text-anchor="middle">376</text>
<line x1="117.70" y1="705.9" x2="117.70" y2="708.9" stroke="#000" stroke-width="1.3"/>
<line x1="135.90" y1="705.9" x2="135.90" y2="711.9" stroke="#000" stroke-width="1.3"/>
<text x="135.90" y="727.4" font-size="14" text-anchor="middle">374</text>
<line x1="154.10" y1="705.9" x2="154.10" y2="708.9" stroke="#000" stroke-width="1.3"/>
<line x1="172.30" y1="705.9" x2="172.30" y2="711.9" stroke="#000" stroke-width="1.3"/>
<text x="172.30" y="727.4" font-size="14" text-anchor="middle">372</text>
<line x1="190.50" y1="705.9" x2="190.50" y2="708.9" stroke="#000" stroke-width="1.3"/>
<line x1="208.70" y1="705.9" x2="208.70" y2="711.9" stroke="#000" stroke-width="1.3"/>
<text x="208.70" y="727.4" font-size="14" text-anchor="middle">370</text>
<line x1="226.90" y1="705.9" x2="226.90" y2="708.9" stroke="#000" stroke-width="1.3"/>
<line x1="245.10" y1="705.9" x2="245.10" y2="711.9" stroke="#000" stroke-width="1.3"/>
<text x="245.10" y="727.4" font-size="14" text-anchor="middle">368</text>
<line x1="263.30" y1="705.9" x2="263.30" y2="708.9" stroke="#000" stroke-width="1.3"/>
<line x1="281.50" y1="705.9" x2="281.50" y2="711.9" stroke="#000" stroke-width="1.3"/>
<text x="281.50" y="727.4" font-size="14" text-anchor="middle">366</text>
<line x1="299.70" y1="705.9" x2="299.70" y2="708.9" stroke="#000" stroke-width="1.3"/>
<line x1="317.90" y1="705.9" x2="317.90" y2="711.9" stroke="#000" stroke-width="1.3"/>
<text x="317.90" y="727.4" font-size="14" text-anchor="middle">364</text>
<line x1="336.10" y1="705.9" x2="336.10" y2="708.9" stroke="#000" stroke-width="1.3"/>
<text x="190.3" y="750.4" font-size="13.7" text-anchor="middle">Binding Energy (eV)</text>
<text transform="translate(14.8,543.8) rotate(-90)" font-size="13.85" text-anchor="middle">Normalised Intensity (a.u.)</text>
<text x="31.1" y="396.8" font-size="14">(b) Ag 3<tspan font-style="italic">d</tspan></text>
<line x1="30.4" y1="411.0" x2="58.6" y2="411.0" stroke="#DA6218" stroke-width="1.0"/>
<text x="61.8" y="415.3" font-size="12.2" fill="#DA6218">thermally sintered</text>
<line x1="30.4" y1="426.0" x2="58.6" y2="426.0" stroke="#1C74BC" stroke-width="1.0"/>
<text x="61.8" y="430.3" font-size="12.2" fill="#1C74BC">chemically sintered</text>
<line x1="30.4" y1="441.0" x2="58.6" y2="441.0" stroke="#000" stroke-width="1.0"/>
<text x="61.8" y="445.3" font-size="12.2" fill="#000">chlorinated</text>
<polyline fill="none" stroke="#DA6218" stroke-width="1.2" stroke-linejoin="round"  points="381.50,691.93 384.21,692.01 386.91,691.01 389.62,691.64 392.32,691.01 395.03,691.41 397.74,691.79 400.44,690.51 403.15,690.99 405.85,691.02 408.56,691.55 411.27,691.04 413.97,691.69 416.68,690.95 419.38,691.14 422.09,691.80 424.80,691.61 427.50,691.50 430.21,691.38 432.91,691.99 435.62,692.20 438.33,691.15 441.03,690.92 443.74,690.73 446.44,692.37 449.15,690.79 451.86,690.52 454.56,691.46 457.27,691.92 459.97,690.54 462.68,691.20 465.39,690.40 468.09,690.83 470.80,692.21 473.50,691.33 476.21,691.06 478.92,691.25 481.62,691.34 484.33,691.07 487.03,690.37 489.74,690.33 492.45,692.19 495.15,690.49 497.86,691.62 500.56,690.43 503.27,691.59 505.98,691.18 508.68,690.60 511.39,691.87 514.09,690.07 516.80,690.45 519.51,690.03 522.21,690.03 524.92,690.23 527.62,689.83 530.33,690.17 533.04,691.26 535.74,689.23 538.45,689.48 541.15,689.61 543.86,689.86 546.57,690.70 549.27,690.49 551.98,690.30 554.68,690.10 557.39,691.37 560.10,689.23 562.80,689.17 565.51,689.80 568.21,689.90 570.92,689.59 573.63,689.19 576.33,688.87 579.04,689.45 581.74,689.22 584.45,689.42 587.16,689.13 589.86,690.64 592.57,690.18 595.27,691.09 597.98,689.74 600.69,690.15 603.39,690.04 606.10,690.26 608.80,690.17 611.51,690.29 614.22,689.28 616.92,690.36 619.63,691.00 622.33,689.50 625.04,690.52 627.75,691.13 630.45,691.62 633.16,690.88 635.86,691.27 638.57,692.11 641.28,691.90 643.98,690.93 646.69,690.91 649.39,691.94 652.10,691.53 654.81,691.15 657.51,691.40 660.22,691.79 662.92,691.49 665.63,691.47 668.34,691.49 671.04,690.76 673.75,692.69 676.45,692.40 679.16,692.58 681.87,691.61 684.57,691.78 687.28,692.06 689.98,692.22 692.69,690.65 695.40,691.96 698.10,691.17 700.81,691.73 703.51,691.39 706.22,692.81"/>
<polyline fill="none" stroke="#1C74BC" stroke-width="1.2" stroke-linejoin="round"  points="381.50,690.81 384.21,689.82 386.91,690.82 389.62,690.99 392.32,690.05 395.03,689.98 397.74,689.57 400.44,690.47 403.15,689.75 405.85,690.03 408.56,690.13 411.27,689.94 413.97,690.84 416.68,691.27 419.38,689.01 422.09,689.78 424.80,690.40 427.50,689.59 430.21,689.88 432.91,690.31 435.62,690.99 438.33,690.84 441.03,689.94 443.74,690.17 446.44,689.85 449.15,689.94 451.86,689.32 454.56,688.94 457.27,689.76 459.97,690.55 462.68,690.40 465.39,688.80 468.09,689.78 470.80,689.50 473.50,690.02 476.21,689.17 478.92,690.35 481.62,689.66 484.33,690.11 487.03,690.27 489.74,688.55 492.45,689.57 495.15,690.58 497.86,689.66 500.56,690.26 503.27,689.86 505.98,688.74 508.68,688.01 511.39,687.29 514.09,686.24 516.80,685.14 519.51,682.42 522.21,682.39 524.92,679.75 527.62,679.17 530.33,677.80 533.04,676.99 535.74,676.24 538.45,677.46 541.15,677.00 543.86,678.53 546.57,678.73 549.27,678.84 551.98,678.46 554.68,679.86 557.39,680.05 560.10,679.33 562.80,676.91 565.51,674.86 568.21,673.32 570.92,671.44 573.63,669.65 576.33,668.45 579.04,665.61 581.74,668.94 584.45,667.73 587.16,671.83 589.86,672.53 592.57,675.98 595.27,676.29 597.98,679.51 600.69,680.33 603.39,682.29 606.10,685.50 608.80,686.49 611.51,686.24 614.22,688.80 616.92,687.86 619.63,689.68 622.33,688.84 625.04,689.56 627.75,690.85 630.45,690.21 633.16,691.10 635.86,689.55 638.57,690.96 641.28,690.53 643.98,690.31 646.69,691.02 649.39,690.78 652.10,690.65 654.81,691.42 657.51,691.13 660.22,691.19 662.92,691.77 665.63,690.95 668.34,691.51 671.04,690.77 673.75,691.40 676.45,691.36 679.16,690.73 681.87,690.17 684.57,690.32 687.28,690.54 689.98,691.45 692.69,691.05 695.40,690.97 698.10,691.44 700.81,691.61 703.51,692.02 706.22,690.84"/>
<polyline fill="none" stroke="#000000" stroke-width="1.0" stroke-linejoin="round"  points="381.50,685.43 384.21,687.18 386.91,681.98 389.62,680.84 392.32,681.14 395.03,684.43 397.74,681.67 400.44,687.34 403.15,677.07 405.85,683.04 408.56,684.37 411.27,686.69 413.97,689.79 416.68,687.18 419.38,686.09 422.09,690.92 424.80,692.79 427.50,682.97 430.21,689.11 432.91,687.72 435.62,684.46 438.33,684.48 441.03,685.39 443.74,684.05 446.44,682.38 449.15,679.00 451.86,680.85 454.56,677.40 457.27,677.71 459.97,674.87 462.68,675.25 465.39,675.10 468.09,672.62 470.80,672.20 473.50,666.39 476.21,669.45 478.92,668.05 481.62,665.77 484.33,665.21 487.03,661.56 489.74,652.91 492.45,643.15 495.15,633.63 497.86,628.76 500.56,619.96 503.27,614.91 505.98,608.94 508.68,603.74 511.39,595.22 514.09,586.73 516.80,579.39 519.51,573.39 522.21,568.13 524.92,568.28 527.62,565.64 530.33,566.00 533.04,569.28 535.74,569.81 538.45,562.77 541.15,556.45 543.86,552.14 546.57,543.92 549.27,535.67 551.98,525.21 554.68,518.69 557.39,512.95 560.10,504.34 562.80,497.68 565.51,504.12 568.21,508.03 570.92,515.58 573.63,521.80 576.33,529.38 579.04,542.31 581.74,558.59 584.45,573.19 587.16,598.51 589.86,615.32 592.57,627.22 595.27,638.81 597.98,647.92 600.69,654.25 603.39,666.98 606.10,668.72 608.80,672.94 611.51,675.54 614.22,680.34 616.92,682.15 619.63,683.05 622.33,685.12 625.04,685.24 627.75,688.37 630.45,693.04 633.16,692.38 635.86,691.77 638.57,690.12 641.28,687.11 643.98,692.35 646.69,689.14 649.39,687.26 652.10,693.08 654.81,685.00 657.51,688.57 660.22,693.11 662.92,693.69 665.63,689.20 668.34,690.69 671.04,692.32 673.75,690.24 676.45,687.85 679.16,691.95 681.87,691.03 684.57,690.83 687.28,694.26 689.98,691.51 692.69,688.91 695.40,691.03 698.10,697.08 700.81,688.03 703.51,689.58 706.22,687.75"/>
<line x1="535.7419999999997" y1="468.3" x2="535.7419999999997" y2="705.9" stroke="#000" stroke-width="1.3" stroke-dasharray="1.2,1.4"/>
<line x1="579.0380000000002" y1="468.3" x2="579.0380000000002" y2="705.9" stroke="#000" stroke-width="1.3" stroke-dasharray="1.2,1.4"/>
<text transform="translate(542.2,466.4) rotate(-90)" font-size="14" fill="#555555">Cl 2<tspan font-style="italic">p</tspan><tspan font-size="9.6" dy="2.4">1/2</tspan></text>
<text transform="translate(584.5,466.4) rotate(-90)" font-size="14" fill="#555555">Cl 2<tspan font-style="italic">p</tspan><tspan font-size="9.6" dy="2.4">3/2</tspan></text>
<rect x="381.6" y="381.8" width="324.6" height="324.09999999999997" fill="none" stroke="#1a1a1a" stroke-width="1.6"/>
<line x1="408.56" y1="705.9" x2="408.56" y2="711.9" stroke="#000" stroke-width="1.3"/>
<text x="408.56" y="727.4" font-size="14" text-anchor="middle">204</text>
<line x1="435.62" y1="705.9" x2="435.62" y2="708.9" stroke="#000" stroke-width="1.3"/>
<line x1="462.68" y1="705.9" x2="462.68" y2="711.9" stroke="#000" stroke-width="1.3"/>
<text x="462.68" y="727.4" font-size="14" text-anchor="middle">202</text>
<line x1="489.74" y1="705.9" x2="489.74" y2="708.9" stroke="#000" stroke-width="1.3"/>
<line x1="516.80" y1="705.9" x2="516.80" y2="711.9" stroke="#000" stroke-width="1.3"/>
<text x="516.80" y="727.4" font-size="14" text-anchor="middle">200</text>
<line x1="543.86" y1="705.9" x2="543.86" y2="708.9" stroke="#000" stroke-width="1.3"/>
<line x1="570.92" y1="705.9" x2="570.92" y2="711.9" stroke="#000" stroke-width="1.3"/>
<text x="570.92" y="727.4" font-size="14" text-anchor="middle">198</text>
<line x1="597.98" y1="705.9" x2="597.98" y2="708.9" stroke="#000" stroke-width="1.3"/>
<line x1="625.04" y1="705.9" x2="625.04" y2="711.9" stroke="#000" stroke-width="1.3"/>
<text x="625.04" y="727.4" font-size="14" text-anchor="middle">196</text>
<line x1="652.10" y1="705.9" x2="652.10" y2="708.9" stroke="#000" stroke-width="1.3"/>
<line x1="679.16" y1="705.9" x2="679.16" y2="711.9" stroke="#000" stroke-width="1.3"/>
<text x="679.16" y="727.4" font-size="14" text-anchor="middle">194</text>
<line x1="706.22" y1="705.9" x2="706.22" y2="708.9" stroke="#000" stroke-width="1.3"/>
<text x="543.5" y="750.4" font-size="13.7" text-anchor="middle">Binding Energy (eV)</text>
<text transform="translate(369,543.8) rotate(-90)" font-size="13.85" text-anchor="middle">Normalised Intensity (a.u.)</text>
<text x="384.5" y="396.8" font-size="14">(c) Cl 2<tspan font-style="italic">p</tspan></text>
<line x1="383.8" y1="411.0" x2="412.0" y2="411.0" stroke="#DA6218" stroke-width="1.0"/>
<text x="415.0" y="415.3" font-size="12.2" fill="#DA6218">thermally sintered</text>
<line x1="383.8" y1="426.0" x2="412.0" y2="426.0" stroke="#1C74BC" stroke-width="1.0"/>
<text x="415.0" y="430.3" font-size="12.2" fill="#1C74BC">chemically sintered</text>
<line x1="383.8" y1="441.0" x2="412.0" y2="441.0" stroke="#000" stroke-width="1.0"/>
<text x="415.0" y="445.3" font-size="12.2" fill="#000">chlorinated</text>
<text transform="translate(179.5,118.9) rotate(-90)" font-size="12" fill="#000">Na 1s</text>
<text transform="translate(223.6,109.0) rotate(-90)" font-size="12" fill="#000">O KLL</text>
<text transform="translate(243.3,118.3) rotate(-90)" font-size="12" fill="#000">Cu 2<tspan font-style="italic">p</tspan></text>
<text transform="translate(282.2,100.5) rotate(-90)" font-size="12" fill="#000">Ni 2<tspan font-style="italic">p</tspan></text>
<text transform="translate(349.0,147.7) rotate(-90)" font-size="12" fill="#000">Ag 3s</text>
<text transform="translate(384.5,157.2) rotate(-90)" font-size="12" fill="#000">Ni LMM</text>
<text transform="translate(402.3,181.0) rotate(-90)" font-size="12" fill="#000">Ag 3<tspan font-style="italic">p</tspan><tspan font-size="8.8" dy="2.3">1/2</tspan></text>
<text transform="translate(417.7,176.0) rotate(-90)" font-size="12" fill="#000">Ag 3<tspan font-style="italic">p</tspan><tspan font-size="8.8" dy="2.3">3/2</tspan></text>
<text transform="translate(437.4,91.0) rotate(-90)" font-size="12" fill="#000">O 1s</text>
<text transform="translate(453.7,215.0) rotate(-90)" font-size="12" fill="#000">Na KLL</text>
<text transform="translate(514.2,86.8) rotate(-90)" font-size="12" fill="#000">Ag 3<tspan font-style="italic">d</tspan></text>
<text transform="translate(554.4,184.8) rotate(-90)" font-size="12" fill="#000">C 1<tspan font-style="italic">s</tspan></text>
<text transform="translate(573.0,184.8) rotate(-90)" font-size="12" fill="#000">Cl 2<tspan font-style="italic">s</tspan></text>
<text transform="translate(582.5,254.3) rotate(-90)" font-size="12" fill="#000">S 2<tspan font-style="italic">s</tspan></text>
<text transform="translate(597.6,232.0) rotate(-90)" font-size="12" fill="#000">Cl 2<tspan font-style="italic">p</tspan></text>
<text transform="translate(612.6,257.1) rotate(-90)" font-size="12" fill="#000">S 2<tspan font-style="italic">p</tspan></text>
<text transform="translate(634.9,257.1) rotate(-90)" font-size="12" fill="#000">Ni 3<tspan font-style="italic">s</tspan></text>
<text transform="translate(659.2,258.7) rotate(-90)" font-size="12" fill="#000">Ni 3<tspan font-style="italic">p</tspan></text>
<text transform="translate(674.2,207.6) rotate(-90)" font-size="12" fill="#000">Ag 4<tspan font-style="italic">p</tspan></text>
<text transform="translate(687.7,262.4) rotate(-90)" font-size="12" fill="#000">Ag 4<tspan font-style="italic">d</tspan></text>
<text transform="translate(151.0,208.6) rotate(-90)" font-size="12" fill="#000">Ag MVV</text>
<text transform="translate(273.7,225.5) rotate(-90)" font-size="12" fill="#000">I 3<tspan font-style="italic">p</tspan><tspan font-size="8.8" dy="2.3">3/2</tspan></text>
<text transform="translate(371.7,312.6) rotate(-90)" font-size="12" fill="#000">I 3<tspan font-style="italic">d</tspan><tspan font-size="8.8" dy="2.3">3/2</tspan></text>
<text transform="translate(397.2,312.6) rotate(-90)" font-size="12" fill="#000">I 3<tspan font-style="italic">d</tspan><tspan font-size="8.8" dy="2.3">5/2</tspan></text>
<line x1="568.0" y1="195.6" x2="560.11" y2="237.79" stroke="#000" stroke-width="1.0"/>
<polygon points="559.1,243.2 557.95,237.39 562.27,238.20" fill="#000"/>
<line x1="669.9" y1="211.6" x2="660.67" y2="268.87" stroke="#000" stroke-width="1.0"/>
<polygon points="659.8,274.3 658.50,268.52 662.85,269.22" fill="#000"/>
<line x1="375.9" y1="271.8" x2="384.49" y2="243.66" stroke="#000" stroke-width="1.0"/>
<polygon points="386.1,238.4 386.60,244.30 382.39,243.02" fill="#000"/>
<line x1="396.9" y1="275.5" x2="391.62" y2="244.22" stroke="#000" stroke-width="1.0"/>
<polygon points="390.7,238.8 393.79,243.86 389.45,244.59" fill="#000"/>
<polyline fill="none" stroke="#404040" stroke-width="1.1" points="600.2,312.5 641.5,312.5 641.5,300.5"/>
<polygon points="641.5,295.6 638.9,301.2 644.1,301.2" fill="#000"/>
<text x="564.2" y="315.3" font-size="12">Ag 4<tspan font-style="italic">s</tspan></text>
</svg></body></html>
